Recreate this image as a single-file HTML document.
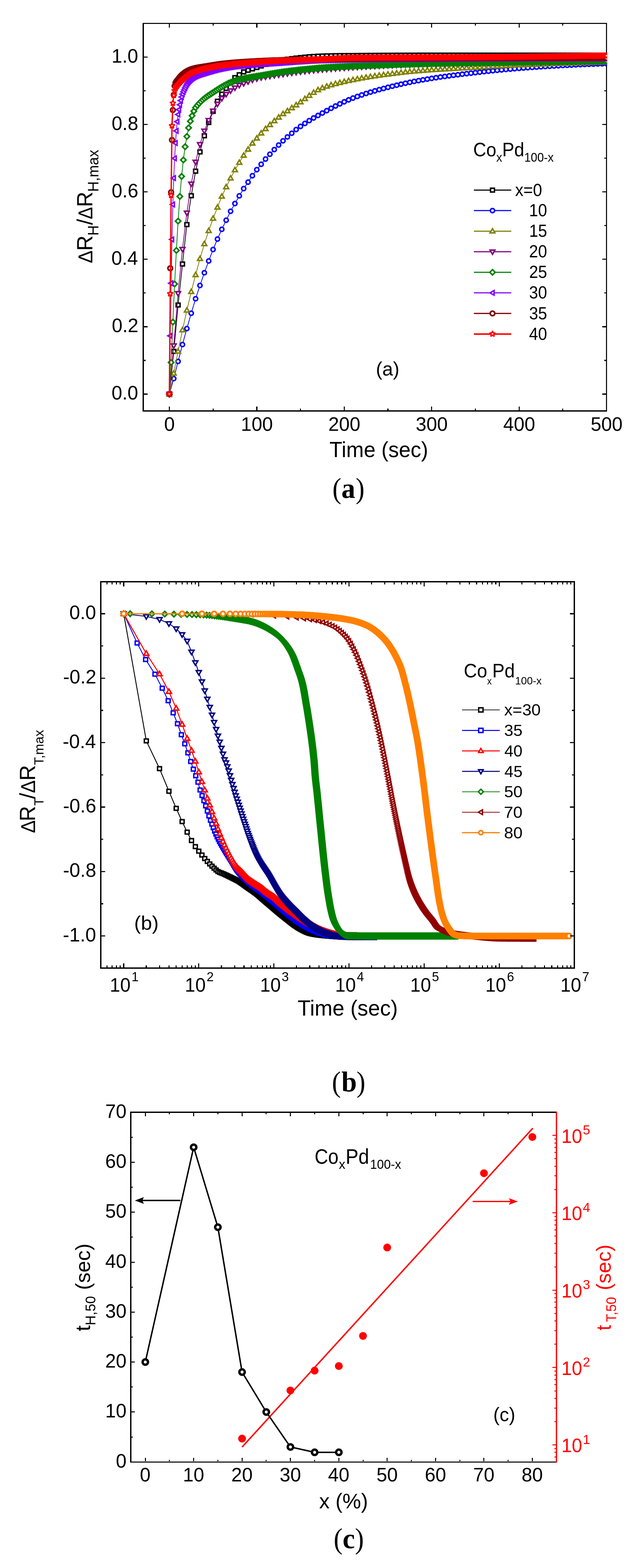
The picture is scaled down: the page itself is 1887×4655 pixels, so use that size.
<!DOCTYPE html>
<html lang="en"><head><meta charset="utf-8"><title>CoxPd100-x hydrogenation response</title>
<style>
html,body{margin:0;padding:0;background:#fff}
body{width:1887px;height:4655px;overflow:hidden}
svg{display:block}
text{white-space:pre}
</style></head><body>
<svg role="img" aria-label="CoxPd100-x hydrogen response figure" width="1887" height="4655" viewBox="0 0 1887 4655">
<rect width="1887" height="4655" fill="#fff"/>
<defs>
<g id="a0" fill="#fff" stroke="#000" stroke-width="4.3" stroke-linejoin="miter"><rect x="-5.85" y="-5.65" width="11.7" height="11.3"/></g>
<marker id="ma0" markerUnits="userSpaceOnUse" markerWidth="40" markerHeight="40" refX="0" refY="0" viewBox="-20 -20 40 40" orient="0" overflow="visible"><use href="#a0"/></marker>
<g id="a1" fill="#fff" stroke="#0000ff" stroke-width="4.6" stroke-linejoin="miter"><circle r="6.15"/></g>
<marker id="ma1" markerUnits="userSpaceOnUse" markerWidth="40" markerHeight="40" refX="0" refY="0" viewBox="-20 -20 40 40" orient="0" overflow="visible"><use href="#a1"/></marker>
<g id="a2" fill="#fff" stroke="#808000" stroke-width="4.3" stroke-linejoin="miter"><path d="M0 -7.67L7.25 4.88L-7.25 4.88Z"/></g>
<marker id="ma2" markerUnits="userSpaceOnUse" markerWidth="40" markerHeight="40" refX="0" refY="0" viewBox="-20 -20 40 40" orient="0" overflow="visible"><use href="#a2"/></marker>
<g id="a3" fill="#fff" stroke="#800080" stroke-width="4.3" stroke-linejoin="miter"><path d="M0 7.67L7.25 -4.88L-7.25 -4.88Z"/></g>
<marker id="ma3" markerUnits="userSpaceOnUse" markerWidth="40" markerHeight="40" refX="0" refY="0" viewBox="-20 -20 40 40" orient="0" overflow="visible"><use href="#a3"/></marker>
<g id="a4" fill="#fff" stroke="#008000" stroke-width="4.6" stroke-linejoin="miter"><path d="M0 -7.95L7.95 0L0 7.95L-7.95 0Z"/></g>
<marker id="ma4" markerUnits="userSpaceOnUse" markerWidth="40" markerHeight="40" refX="0" refY="0" viewBox="-20 -20 40 40" orient="0" overflow="visible"><use href="#a4"/></marker>
<g id="a5" fill="#fff" stroke="#8000ff" stroke-width="4.3" stroke-linejoin="miter"><path d="M-7.27 0L4.68 6.9L4.68 -6.9Z"/></g>
<marker id="ma5" markerUnits="userSpaceOnUse" markerWidth="40" markerHeight="40" refX="0" refY="0" viewBox="-20 -20 40 40" orient="0" overflow="visible"><use href="#a5"/></marker>
<g id="a6" fill="#fff" stroke="#800000" stroke-width="4.9" stroke-linejoin="miter"><circle r="6.85"/></g>
<marker id="ma6" markerUnits="userSpaceOnUse" markerWidth="40" markerHeight="40" refX="0" refY="0" viewBox="-20 -20 40 40" orient="0" overflow="visible"><use href="#a6"/></marker>
<g id="a7" fill="#fff" stroke="#ff0000" stroke-width="3.8" stroke-linejoin="miter" stroke-miterlimit="2"><polygon points="0,-9.5 2.23,-3.57 8.56,-3.28 3.61,0.67 5.29,6.78 0,3.3 -5.29,6.78 -3.61,0.67 -8.56,-3.28 -2.23,-3.57"/></g>
<marker id="ma7" markerUnits="userSpaceOnUse" markerWidth="40" markerHeight="40" refX="0" refY="0" viewBox="-20 -20 40 40" orient="0" overflow="visible"><use href="#a7"/></marker>
<g id="b0" fill="#fff" stroke="#000" stroke-width="4.2" stroke-linejoin="miter"><rect x="-5.85" y="-5.65" width="11.7" height="11.3"/></g>
<marker id="mb0" markerUnits="userSpaceOnUse" markerWidth="40" markerHeight="40" refX="0" refY="0" viewBox="-20 -20 40 40" orient="0" overflow="visible"><use href="#b0"/></marker>
<g id="b1" fill="#fff" stroke="#0000ff" stroke-width="4.2" stroke-linejoin="miter"><rect x="-5.85" y="-5.65" width="11.7" height="11.3"/></g>
<marker id="mb1" markerUnits="userSpaceOnUse" markerWidth="40" markerHeight="40" refX="0" refY="0" viewBox="-20 -20 40 40" orient="0" overflow="visible"><use href="#b1"/></marker>
<g id="b2" fill="#fff" stroke="#ff0000" stroke-width="4.2" stroke-linejoin="miter"><path d="M0 -8.06L7.59 5.08L-7.59 5.08Z"/></g>
<marker id="mb2" markerUnits="userSpaceOnUse" markerWidth="40" markerHeight="40" refX="0" refY="0" viewBox="-20 -20 40 40" orient="0" overflow="visible"><use href="#b2"/></marker>
<g id="b3" fill="#fff" stroke="#000080" stroke-width="4.2" stroke-linejoin="miter"><path d="M0 8.06L7.59 -5.08L-7.59 -5.08Z"/></g>
<marker id="mb3" markerUnits="userSpaceOnUse" markerWidth="40" markerHeight="40" refX="0" refY="0" viewBox="-20 -20 40 40" orient="0" overflow="visible"><use href="#b3"/></marker>
<g id="b4" fill="#fff" stroke="#008000" stroke-width="4.6" stroke-linejoin="miter"><path d="M0 -7.95L7.95 0L0 7.95L-7.95 0Z"/></g>
<marker id="mb4" markerUnits="userSpaceOnUse" markerWidth="40" markerHeight="40" refX="0" refY="0" viewBox="-20 -20 40 40" orient="0" overflow="visible"><use href="#b4"/></marker>
<g id="b5" fill="#fff" stroke="#900000" stroke-width="4.2" stroke-linejoin="miter"><path d="M-7.27 0L4.68 6.9L4.68 -6.9Z"/></g>
<marker id="mb5" markerUnits="userSpaceOnUse" markerWidth="40" markerHeight="40" refX="0" refY="0" viewBox="-20 -20 40 40" orient="0" overflow="visible"><use href="#b5"/></marker>
<g id="b6" fill="#fff" stroke="#ff8000" stroke-width="5.3" stroke-linejoin="miter"><circle r="7.2"/></g>
<marker id="mb6" markerUnits="userSpaceOnUse" markerWidth="40" markerHeight="40" refX="0" refY="0" viewBox="-20 -20 40 40" orient="0" overflow="visible"><use href="#b6"/></marker>
<g id="b0L" fill="#fff" stroke="#000" stroke-width="4.2" stroke-linejoin="miter"><rect x="-6.45" y="-6.25" width="12.9" height="12.5"/></g>
<marker id="mb0L" markerUnits="userSpaceOnUse" markerWidth="40" markerHeight="40" refX="0" refY="0" viewBox="-20 -20 40 40" orient="0" overflow="visible"><use href="#b0L"/></marker>
<g id="b1L" fill="#fff" stroke="#0000ff" stroke-width="4.2" stroke-linejoin="miter"><rect x="-6.45" y="-6.25" width="12.9" height="12.5"/></g>
<marker id="mb1L" markerUnits="userSpaceOnUse" markerWidth="40" markerHeight="40" refX="0" refY="0" viewBox="-20 -20 40 40" orient="0" overflow="visible"><use href="#b1L"/></marker>
<g id="b2L" fill="#fff" stroke="#ff0000" stroke-width="4.2" stroke-linejoin="miter"><path d="M0 -7.27L6.9 4.68L-6.9 4.68Z"/></g>
<marker id="mb2L" markerUnits="userSpaceOnUse" markerWidth="40" markerHeight="40" refX="0" refY="0" viewBox="-20 -20 40 40" orient="0" overflow="visible"><use href="#b2L"/></marker>
<g id="b3L" fill="#fff" stroke="#000080" stroke-width="4.2" stroke-linejoin="miter"><path d="M0 7.27L6.9 -4.68L-6.9 -4.68Z"/></g>
<marker id="mb3L" markerUnits="userSpaceOnUse" markerWidth="40" markerHeight="40" refX="0" refY="0" viewBox="-20 -20 40 40" orient="0" overflow="visible"><use href="#b3L"/></marker>
<g id="b4L" fill="#fff" stroke="#008000" stroke-width="4.2" stroke-linejoin="miter"><path d="M0 -7.5L7.5 0L0 7.5L-7.5 0Z"/></g>
<marker id="mb4L" markerUnits="userSpaceOnUse" markerWidth="40" markerHeight="40" refX="0" refY="0" viewBox="-20 -20 40 40" orient="0" overflow="visible"><use href="#b4L"/></marker>
<g id="b5L" fill="#fff" stroke="#900000" stroke-width="4.2" stroke-linejoin="miter"><path d="M-7.27 0L4.68 6.9L4.68 -6.9Z"/></g>
<marker id="mb5L" markerUnits="userSpaceOnUse" markerWidth="40" markerHeight="40" refX="0" refY="0" viewBox="-20 -20 40 40" orient="0" overflow="visible"><use href="#b5L"/></marker>
<g id="b6L" fill="#fff" stroke="#ff8000" stroke-width="4.6" stroke-linejoin="miter"><circle r="6.15"/></g>
<marker id="mb6L" markerUnits="userSpaceOnUse" markerWidth="40" markerHeight="40" refX="0" refY="0" viewBox="-20 -20 40 40" orient="0" overflow="visible"><use href="#b6L"/></marker>
<g id="c0" fill="#fff" stroke="#000" stroke-width="7" stroke-linejoin="miter"><circle r="8"/></g>
<marker id="mc0" markerUnits="userSpaceOnUse" markerWidth="40" markerHeight="40" refX="0" refY="0" viewBox="-20 -20 40 40" orient="0" overflow="visible"><use href="#c0"/></marker>
<g id="c1" fill="#ff0000" stroke="#ff0000" stroke-width="0" stroke-linejoin="miter"><circle r="11.5"/></g>
<marker id="mc1" markerUnits="userSpaceOnUse" markerWidth="40" markerHeight="40" refX="0" refY="0" viewBox="-20 -20 40 40" orient="0" overflow="visible"><use href="#c1"/></marker>
</defs>
<g id="chart-a">
<g shape-rendering="crispEdges">
<rect x="425.2" y="69.4" width="1374.3" height="1150.6" fill="none" stroke="#000" stroke-width="3.6"/>
<line x1="502.5" y1="1218.2" x2="502.5" y2="1207.2" stroke="#000" stroke-width="3.2"/>
<line x1="502.5" y1="71.2" x2="502.5" y2="82.2" stroke="#000" stroke-width="3.2"/>
<line x1="632.2" y1="1218.2" x2="632.2" y2="1213.2" stroke="#000" stroke-width="3.2"/>
<line x1="632.2" y1="71.2" x2="632.2" y2="76.2" stroke="#000" stroke-width="3.2"/>
<line x1="761.9" y1="1218.2" x2="761.9" y2="1207.2" stroke="#000" stroke-width="3.2"/>
<line x1="761.9" y1="71.2" x2="761.9" y2="82.2" stroke="#000" stroke-width="3.2"/>
<line x1="891.6" y1="1218.2" x2="891.6" y2="1213.2" stroke="#000" stroke-width="3.2"/>
<line x1="891.6" y1="71.2" x2="891.6" y2="76.2" stroke="#000" stroke-width="3.2"/>
<line x1="1021.3" y1="1218.2" x2="1021.3" y2="1207.2" stroke="#000" stroke-width="3.2"/>
<line x1="1021.3" y1="71.2" x2="1021.3" y2="82.2" stroke="#000" stroke-width="3.2"/>
<line x1="1151" y1="1218.2" x2="1151" y2="1213.2" stroke="#000" stroke-width="3.2"/>
<line x1="1151" y1="71.2" x2="1151" y2="76.2" stroke="#000" stroke-width="3.2"/>
<line x1="1280.7" y1="1218.2" x2="1280.7" y2="1207.2" stroke="#000" stroke-width="3.2"/>
<line x1="1280.7" y1="71.2" x2="1280.7" y2="82.2" stroke="#000" stroke-width="3.2"/>
<line x1="1410.4" y1="1218.2" x2="1410.4" y2="1213.2" stroke="#000" stroke-width="3.2"/>
<line x1="1410.4" y1="71.2" x2="1410.4" y2="76.2" stroke="#000" stroke-width="3.2"/>
<line x1="1540.1" y1="1218.2" x2="1540.1" y2="1207.2" stroke="#000" stroke-width="3.2"/>
<line x1="1540.1" y1="71.2" x2="1540.1" y2="82.2" stroke="#000" stroke-width="3.2"/>
<line x1="1669.8" y1="1218.2" x2="1669.8" y2="1213.2" stroke="#000" stroke-width="3.2"/>
<line x1="1669.8" y1="71.2" x2="1669.8" y2="76.2" stroke="#000" stroke-width="3.2"/>
<line x1="1799.5" y1="1218.2" x2="1799.5" y2="1207.2" stroke="#000" stroke-width="3.2"/>
<line x1="1799.5" y1="71.2" x2="1799.5" y2="82.2" stroke="#000" stroke-width="3.2"/>
<line x1="427" y1="1170" x2="438" y2="1170" stroke="#000" stroke-width="3.2"/>
<line x1="1797.7" y1="1170" x2="1786.7" y2="1170" stroke="#000" stroke-width="3.2"/>
<line x1="427" y1="1069.95" x2="432" y2="1069.95" stroke="#000" stroke-width="3.2"/>
<line x1="1797.7" y1="1069.95" x2="1792.7" y2="1069.95" stroke="#000" stroke-width="3.2"/>
<line x1="427" y1="969.9" x2="438" y2="969.9" stroke="#000" stroke-width="3.2"/>
<line x1="1797.7" y1="969.9" x2="1786.7" y2="969.9" stroke="#000" stroke-width="3.2"/>
<line x1="427" y1="869.85" x2="432" y2="869.85" stroke="#000" stroke-width="3.2"/>
<line x1="1797.7" y1="869.85" x2="1792.7" y2="869.85" stroke="#000" stroke-width="3.2"/>
<line x1="427" y1="769.8" x2="438" y2="769.8" stroke="#000" stroke-width="3.2"/>
<line x1="1797.7" y1="769.8" x2="1786.7" y2="769.8" stroke="#000" stroke-width="3.2"/>
<line x1="427" y1="669.75" x2="432" y2="669.75" stroke="#000" stroke-width="3.2"/>
<line x1="1797.7" y1="669.75" x2="1792.7" y2="669.75" stroke="#000" stroke-width="3.2"/>
<line x1="427" y1="569.7" x2="438" y2="569.7" stroke="#000" stroke-width="3.2"/>
<line x1="1797.7" y1="569.7" x2="1786.7" y2="569.7" stroke="#000" stroke-width="3.2"/>
<line x1="427" y1="469.65" x2="432" y2="469.65" stroke="#000" stroke-width="3.2"/>
<line x1="1797.7" y1="469.65" x2="1792.7" y2="469.65" stroke="#000" stroke-width="3.2"/>
<line x1="427" y1="369.6" x2="438" y2="369.6" stroke="#000" stroke-width="3.2"/>
<line x1="1797.7" y1="369.6" x2="1786.7" y2="369.6" stroke="#000" stroke-width="3.2"/>
<line x1="427" y1="269.55" x2="432" y2="269.55" stroke="#000" stroke-width="3.2"/>
<line x1="1797.7" y1="269.55" x2="1792.7" y2="269.55" stroke="#000" stroke-width="3.2"/>
<line x1="427" y1="169.5" x2="438" y2="169.5" stroke="#000" stroke-width="3.2"/>
<line x1="1797.7" y1="169.5" x2="1786.7" y2="169.5" stroke="#000" stroke-width="3.2"/>
</g>
<clipPath id="clipa"><rect x="425.2" y="69.4" width="1376.2" height="1150.6"/></clipPath>
<g clip-path="url(#clipa)">
<polyline points="502.5,1170 515.5,1043.3 528.4,905.5 541.4,783.8 554.4,666.7 567.4,581 580.3,508.2 593.3,451 606.3,403.1 619.2,363.6 632.2,330.6 645.2,300.6 658.1,279.6 671.1,262.5 684.1,245 697,230.5 710,222 723,213.5 736,208.5 748.9,204.5 761.9,200.3 774.9,195.8 787.8,191.2 800.8,186.9 813.8,183 826.8,179.9 839.7,177.7 852.7,175.8 865.7,174.1 878.6,172.4 891.6,171 904.6,169.7 917.5,168.5 930.5,167.6 943.5,166.8 956.5,166.3 969.4,165.9 982.4,165.6 995.4,165.3 1008.3,165.1 1021.3,165 1034.3,164.9 1047.2,164.8 1060.2,164.7 1073.2,164.6 1086.2,164.5 1099.1,164.4 1112.1,164.3 1125.1,164.2 1138,164.1 1151,164.1 1164,164 1176.9,163.9 1189.9,163.9 1202.9,163.8 1215.8,163.8 1228.8,163.8 1241.8,163.7 1254.8,163.7 1267.7,163.7 1280.7,163.7 1293.7,163.7 1306.6,163.7 1319.6,163.7 1332.6,163.7 1345.5,163.7 1358.5,163.7 1371.5,163.7 1384.5,163.7 1397.4,163.7 1410.4,163.7 1423.4,163.7 1436.3,163.7 1449.3,163.7 1462.3,163.7 1475.2,163.7 1488.2,163.7 1501.2,163.7 1514.2,163.7 1527.1,163.7 1540.1,163.7 1553.1,163.7 1566,163.7 1579,163.7 1592,163.7 1605,163.7 1617.9,163.7 1630.9,163.7 1643.9,163.7 1656.8,163.7 1669.8,163.7 1682.8,163.7 1695.7,163.7 1708.7,163.7 1721.7,163.7 1734.6,163.7 1747.6,163.7 1760.6,163.7 1773.6,163.7 1786.5,163.7 1799.5,163.7" fill="none" stroke="#000" stroke-width="2.2" stroke-linejoin="round" marker-start="url(#ma0)" marker-mid="url(#ma0)" marker-end="url(#ma0)"/>
<polyline points="502.5,1170 515.5,1124 528.4,1073 541.4,1022.9 554.4,975.4 567.4,929.9 580.3,886.9 593.3,847.4 606.3,809.8 619.2,774.8 632.2,740.8 645.2,709.8 658.1,680.8 671.1,653.7 684.1,627.2 697,604.3 710,581.4 723,559.9 736,540.7 748.9,521.7 761.9,503.7 774.9,487.7 787.8,472.2 800.8,457.9 813.8,444.1 826.8,430.6 839.7,418.1 852.7,406.6 865.7,395.6 878.6,384.6 891.6,375.2 904.6,366.4 917.5,358.1 930.5,350.3 943.5,342.8 956.5,335.6 969.4,328.5 982.4,321.5 995.4,314.8 1008.3,308.4 1021.3,302.3 1034.3,296.5 1047.2,291.2 1060.2,286.4 1073.2,281.9 1086.2,277.6 1099.1,273.6 1112.1,269.8 1125.1,266.1 1138,262.7 1151,259.3 1164,256.1 1176.9,253 1189.9,250 1202.9,247.1 1215.8,244.4 1228.8,241.8 1241.8,239.4 1254.8,237.1 1267.7,234.9 1280.7,232.8 1293.7,230.8 1306.6,228.8 1319.6,227 1332.6,225.2 1345.5,223.5 1358.5,221.9 1371.5,220.3 1384.5,218.7 1397.4,217.2 1410.4,215.7 1423.4,214.2 1436.3,212.8 1449.3,211.4 1462.3,210.1 1475.2,208.8 1488.2,207.5 1501.2,206.3 1514.2,205.2 1527.1,204.1 1540.1,203 1553.1,202 1566,201 1579,200.1 1592,199.2 1605,198.3 1617.9,197.5 1630.9,196.7 1643.9,195.9 1656.8,195.2 1669.8,194.5 1682.8,193.9 1695.7,193.2 1708.7,192.6 1721.7,192 1734.6,191.4 1747.6,190.9 1760.6,190.4 1773.6,189.9 1786.5,189.4 1799.5,189" fill="none" stroke="#0000ff" stroke-width="2.2" stroke-linejoin="round" marker-start="url(#ma1)" marker-mid="url(#ma1)" marker-end="url(#ma1)"/>
<polyline points="502.5,1170 515.5,1108.5 528.4,1043.3 541.4,979.9 554.4,921.5 567.4,866.3 580.3,816.1 593.3,768.3 606.3,724.2 619.2,685.2 632.2,648.7 645.2,615.7 658.1,583.2 671.1,555.3 684.1,529.2 697,504.7 710,482.7 723,461.6 736,443.6 748.9,425.6 761.9,410.6 774.9,395.6 787.8,382.6 800.8,370.6 813.8,359.1 826.8,348.6 839.7,338.1 852.7,329.6 865.7,320.6 878.6,312.1 891.6,303.1 904.6,293.5 917.5,283.9 930.5,274.9 943.5,267.2 956.5,261.3 969.4,256.6 982.4,252.5 995.4,248.9 1008.3,245.6 1021.3,242.6 1034.3,239.8 1047.2,237.2 1060.2,234.7 1073.2,232.3 1086.2,230 1099.1,227.9 1112.1,225.9 1125.1,224 1138,222.3 1151,220.6 1164,218.9 1176.9,217.3 1189.9,215.8 1202.9,214.3 1215.8,213 1228.8,211.8 1241.8,210.6 1254.8,209.6 1267.7,208.7 1280.7,207.8 1293.7,207 1306.6,206.2 1319.6,205.4 1332.6,204.7 1345.5,203.9 1358.5,203.2 1371.5,202.4 1384.5,201.7 1397.4,200.9 1410.4,200.2 1423.4,199.4 1436.3,198.7 1449.3,198 1462.3,197.3 1475.2,196.6 1488.2,195.9 1501.2,195.3 1514.2,194.6 1527.1,194.1 1540.1,193.5 1553.1,193 1566,192.5 1579,191.9 1592,191.4 1605,190.9 1617.9,190.4 1630.9,190 1643.9,189.5 1656.8,189 1669.8,188.6 1682.8,188.2 1695.7,187.8 1708.7,187.3 1721.7,187 1734.6,186.6 1747.6,186.2 1760.6,185.9 1773.6,185.6 1786.5,185.3 1799.5,185" fill="none" stroke="#808000" stroke-width="2.2" stroke-linejoin="round" marker-start="url(#ma2)" marker-mid="url(#ma2)" marker-end="url(#ma2)"/>
<polyline points="502.5,1170 515.5,1026.1 528.4,870.9 541.4,739.8 554.4,631.7 567.4,545.7 580.3,480.7 593.3,428.6 606.3,388.6 619.2,357.1 632.2,329.1 645.2,308.6 658.1,292 671.1,279.6 684.1,269 697,260.5 710,252.7 723,247.5 736,242 748.9,237 761.9,233.3 774.9,230 787.8,228 800.8,225.8 813.8,223.8 826.8,222.1 839.7,220.1 852.7,218.3 865.7,216.3 878.6,214.5 891.6,213.1 904.6,211.6 917.5,210.1 930.5,208.8 943.5,207.6 956.5,206.4 969.4,205.3 982.4,204.3 995.4,203.3 1008.3,202.3 1021.3,201.4 1034.3,200.6 1047.2,199.8 1060.2,199 1073.2,198.3 1086.2,197.6 1099.1,196.9 1112.1,196.2 1125.1,195.5 1138,194.9 1151,194.3 1164,193.7 1176.9,193.1 1189.9,192.5 1202.9,192 1215.8,191.5 1228.8,191 1241.8,190.6 1254.8,190.2 1267.7,189.8 1280.7,189.5 1293.7,189.2 1306.6,188.9 1319.6,188.7 1332.6,188.4 1345.5,188.2 1358.5,188 1371.5,187.7 1384.5,187.5 1397.4,187.3 1410.4,187.1 1423.4,187 1436.3,186.8 1449.3,186.6 1462.3,186.4 1475.2,186.3 1488.2,186.1 1501.2,186 1514.2,185.8 1527.1,185.7 1540.1,185.5 1553.1,185.4 1566,185.2 1579,185.1 1592,184.9 1605,184.8 1617.9,184.6 1630.9,184.5 1643.9,184.4 1656.8,184.2 1669.8,184.1 1682.8,184 1695.7,183.8 1708.7,183.7 1721.7,183.6 1734.6,183.5 1747.6,183.4 1760.6,183.3 1773.6,183.2 1786.5,183.1 1799.5,183" fill="none" stroke="#800080" stroke-width="2.2" stroke-linejoin="round" marker-start="url(#ma3)" marker-mid="url(#ma3)" marker-end="url(#ma3)"/>
<polyline points="502.5,1170 507.7,1076 512.9,956 518.1,843 523.3,743.4 528.4,656.4 533.6,583.2 538.8,523.7 544,474.9 549.2,435.6 554.4,405.1 559.6,379.6 564.8,359.9 569.9,343.6 575.1,330 580.3,319.6 585.5,312.9 590.7,306.9 595.9,301.6 601.1,296.8 606.3,292.4 611.4,288.4 616.6,284.7 621.8,281.2 627,277.8 632.2,274.4 637.4,271 642.6,267.7 647.8,264.4 653,261.2 658.1,258.1 663.3,255.1 668.5,252.3 673.7,249.6 678.9,247.1 684.1,244.7 689.3,242.6 694.5,240.7 699.6,239.1 704.8,237.7 710,236.3 715.2,235.1 720.4,233.9 725.6,232.8 730.8,231.7 736,230.8 741.1,229.8 746.3,228.9 751.5,228 756.7,227.2 761.9,226.3 767.1,225.5 772.3,224.7 777.5,223.8 782.7,222.9 787.8,222 793,221 798.2,220.1 803.4,219.2 808.6,218.3 813.8,217.4 819,216.6 824.2,215.8 829.3,215 834.5,214.2 839.7,213.5 844.9,212.8 850.1,212.1 855.3,211.5 860.5,210.8 865.7,210.2 870.8,209.6 876,209 881.2,208.4 886.4,207.8 891.6,207.3 896.8,206.7 902,206.2 907.2,205.6 912.4,205.1 917.5,204.6 922.7,204.1 927.9,203.6 933.1,203.1 938.3,202.6 943.5,202.2 948.7,201.8 953.9,201.4 959,201 964.2,200.7 969.4,200.3 974.6,200 979.8,199.7 985,199.3 990.2,199 995.4,198.7 1000.5,198.4 1005.7,198.2 1010.9,197.9 1016.1,197.6 1021.3,197.4 1026.5,197.1 1031.7,196.9 1036.9,196.7 1042.1,196.4 1047.2,196.2 1052.4,196 1057.6,195.8 1062.8,195.6 1068,195.3 1073.2,195.1 1078.4,194.9 1083.6,194.7 1088.7,194.5 1093.9,194.3 1099.1,194.2 1104.3,194 1109.5,193.8 1114.7,193.6 1119.9,193.4 1125.1,193.2 1130.2,193.1 1135.4,192.9 1140.6,192.7 1145.8,192.5 1151,192.4 1156.2,192.2 1161.4,192.1 1166.6,191.9 1171.8,191.7 1176.9,191.6 1182.1,191.4 1187.3,191.3 1192.5,191.1 1197.7,191 1202.9,190.8 1208.1,190.7 1213.3,190.6 1218.4,190.4 1223.6,190.3 1228.8,190.2 1234,190 1239.2,189.9 1244.4,189.8 1249.6,189.7 1254.8,189.5 1259.9,189.4 1265.1,189.3 1270.3,189.2 1275.5,189.1 1280.7,189 1285.9,188.9 1291.1,188.8 1296.3,188.6 1301.5,188.5 1306.6,188.4 1311.8,188.3 1317,188.2 1322.2,188.2 1327.4,188.1 1332.6,188 1337.8,187.9 1343,187.8 1348.1,187.7 1353.3,187.6 1358.5,187.5 1363.7,187.4 1368.9,187.3 1374.1,187.2 1379.3,187.1 1384.5,187 1389.6,187 1394.8,186.9 1400,186.8 1405.2,186.7 1410.4,186.6 1415.6,186.5 1420.8,186.4 1426,186.3 1431.2,186.2 1436.3,186.2 1441.5,186.1 1446.7,186 1451.9,185.9 1457.1,185.8 1462.3,185.7 1467.5,185.6 1472.7,185.6 1477.8,185.5 1483,185.4 1488.2,185.3 1493.4,185.2 1498.6,185.1 1503.8,185 1509,185 1514.2,184.9 1519.3,184.8 1524.5,184.7 1529.7,184.6 1534.9,184.5 1540.1,184.5 1545.3,184.4 1550.5,184.3 1555.7,184.2 1560.9,184.1 1566,184.1 1571.2,184 1576.4,183.9 1581.6,183.8 1586.8,183.8 1592,183.7 1597.2,183.6 1602.4,183.5 1607.5,183.4 1612.7,183.4 1617.9,183.3 1623.1,183.2 1628.3,183.1 1633.5,183.1 1638.7,183 1643.9,182.9 1649,182.9 1654.2,182.8 1659.4,182.7 1664.6,182.6 1669.8,182.6 1675,182.5 1680.2,182.4 1685.4,182.4 1690.6,182.3 1695.7,182.2 1700.9,182.2 1706.1,182.1 1711.3,182 1716.5,182 1721.7,181.9 1726.9,181.8 1732.1,181.8 1737.2,181.7 1742.4,181.6 1747.6,181.6 1752.8,181.5 1758,181.5 1763.2,181.4 1768.4,181.3 1773.6,181.3 1778.7,181.2 1783.9,181.2 1789.1,181.1 1794.3,181.1 1799.5,181" fill="none" stroke="#008000" stroke-width="2.2" stroke-linejoin="round" marker-start="url(#ma4)" marker-mid="url(#ma4)" marker-end="url(#ma4)"/>
<polyline points="502.5,1170 505.1,996.9 507.7,840.8 510.3,710.8 512.9,607.1 515.5,528.7 518.1,470 520.7,424.6 523.3,388.6 525.8,361.1 528.4,340 531,325.3 533.6,310.9 536.2,298.6 538.8,288 541.4,279.6 544,272.6 546.6,266.4 549.2,260.8 551.8,255.4 554.4,250.4 557,246.2 559.6,243 562.2,240 564.8,237.3 567.4,234.9 569.9,232.7 572.5,230.8 575.1,229.1 577.7,227.7 580.3,226.4 582.9,225.2 585.5,224 588.1,223 590.7,222 593.3,221.1 595.9,220.2 598.5,219.4 601.1,218.6 603.7,217.8 606.3,217.1 608.9,216.3 611.4,215.5 614,214.8 616.6,214 619.2,213.2 621.8,212.4 624.4,211.6 627,210.9 629.6,210.1 632.2,209.4 634.8,208.7 637.4,208 640,207.3 642.6,206.7 645.2,206 647.8,205.4 650.4,204.8 653,204.3 655.5,203.7 658.1,203.2 660.7,202.7 663.3,202.2 665.9,201.7 668.5,201.2 671.1,200.7 673.7,200.2 676.3,199.8 678.9,199.3 681.5,198.9 684.1,198.5 686.7,198.1 689.3,197.7 691.9,197.3 694.5,197 697,196.7 699.6,196.3 702.2,196 704.8,195.8 707.4,195.5 710,195.2 712.6,194.9 715.2,194.7 717.8,194.4 720.4,194.2 723,193.9 725.6,193.7 728.2,193.4 730.8,193.2 733.4,193 736,192.7 738.6,192.5 741.1,192.3 743.7,192.1 746.3,191.9 748.9,191.7 751.5,191.5 754.1,191.3 756.7,191.1 759.3,190.9 761.9,190.7 764.5,190.5 767.1,190.3 769.7,190.1 772.3,189.9 774.9,189.7 777.5,189.6 780.1,189.4 782.7,189.2 785.2,189 787.8,188.9 790.4,188.7 793,188.5 795.6,188.3 798.2,188.2 800.8,188 803.4,187.8 806,187.7 808.6,187.5 811.2,187.3 813.8,187.1 816.4,187 819,186.8 821.6,186.6 824.2,186.4 826.8,186.2 829.3,186.1 831.9,185.9 834.5,185.7 837.1,185.5 839.7,185.3 842.3,185.1 844.9,184.9 847.5,184.8 850.1,184.6 852.7,184.4 855.3,184.2 857.9,184 860.5,183.8 863.1,183.6 865.7,183.4 868.3,183.2 870.8,183.1 873.4,182.9 876,182.7 878.6,182.5 881.2,182.3 883.8,182.1 886.4,182 889,181.8 891.6,181.6 894.2,181.4 896.8,181.3 899.4,181.1 902,180.9 904.6,180.8 907.2,180.6 909.8,180.4 912.4,180.3 914.9,180.1 917.5,180 920.1,179.8 922.7,179.7 925.3,179.6 927.9,179.4 930.5,179.3 933.1,179.2 935.7,179.1 938.3,178.9 940.9,178.8 943.5,178.7 946.1,178.6 948.7,178.5 951.3,178.4 953.9,178.4 956.5,178.3 959,178.2 961.6,178.1 964.2,178.1 966.8,178 969.4,177.9 972,177.9 974.6,177.8 977.2,177.7 979.8,177.7 982.4,177.6 985,177.5 987.6,177.5 990.2,177.4 992.8,177.4 995.4,177.3 998,177.2 1000.5,177.2 1003.1,177.1 1005.7,177.1 1008.3,177 1010.9,176.9 1013.5,176.9 1016.1,176.8 1018.7,176.8 1021.3,176.7 1023.9,176.7 1026.5,176.6 1029.1,176.6 1031.7,176.5 1034.3,176.5 1036.9,176.4 1039.5,176.4 1042.1,176.3 1044.6,176.3 1047.2,176.2 1049.8,176.2 1052.4,176.1 1055,176.1 1057.6,176.1 1060.2,176 1062.8,176 1065.4,175.9 1068,175.9 1070.6,175.8 1073.2,175.8 1075.8,175.8 1078.4,175.7 1081,175.7 1083.6,175.7 1086.2,175.6 1088.7,175.6 1091.3,175.6 1093.9,175.5 1096.5,175.5 1099.1,175.5 1101.7,175.4 1104.3,175.4 1106.9,175.4 1109.5,175.3 1112.1,175.3 1114.7,175.3 1117.3,175.3 1119.9,175.2 1122.5,175.2 1125.1,175.2 1127.7,175.2 1130.2,175.2 1132.8,175.1 1135.4,175.1 1138,175.1 1140.6,175.1 1143.2,175.1 1145.8,175 1148.4,175 1151,175 1153.6,175 1156.2,175 1158.8,175 1161.4,174.9 1164,174.9 1166.6,174.9 1169.2,174.9 1171.8,174.9 1174.3,174.9 1176.9,174.9 1179.5,174.8 1182.1,174.8 1184.7,174.8 1187.3,174.8 1189.9,174.8 1192.5,174.8 1195.1,174.7 1197.7,174.7 1200.3,174.7 1202.9,174.7 1205.5,174.7 1208.1,174.7 1210.7,174.7 1213.3,174.6 1215.8,174.6 1218.4,174.6 1221,174.6 1223.6,174.6 1226.2,174.6 1228.8,174.6 1231.4,174.6 1234,174.5 1236.6,174.5 1239.2,174.5 1241.8,174.5 1244.4,174.5 1247,174.5 1249.6,174.5 1252.2,174.4 1254.8,174.4 1257.4,174.4 1259.9,174.4 1262.5,174.4 1265.1,174.4 1267.7,174.4 1270.3,174.4 1272.9,174.3 1275.5,174.3 1278.1,174.3 1280.7,174.3 1283.3,174.3 1285.9,174.3 1288.5,174.3 1291.1,174.3 1293.7,174.2 1296.3,174.2 1298.9,174.2 1301.5,174.2 1304,174.2 1306.6,174.2 1309.2,174.2 1311.8,174.2 1314.4,174.1 1317,174.1 1319.6,174.1 1322.2,174.1 1324.8,174.1 1327.4,174.1 1330,174.1 1332.6,174.1 1335.2,174 1337.8,174 1340.4,174 1343,174 1345.5,174 1348.1,174 1350.7,174 1353.3,174 1355.9,174 1358.5,173.9 1361.1,173.9 1363.7,173.9 1366.3,173.9 1368.9,173.9 1371.5,173.9 1374.1,173.9 1376.7,173.9 1379.3,173.9 1381.9,173.9 1384.5,173.8 1387.1,173.8 1389.6,173.8 1392.2,173.8 1394.8,173.8 1397.4,173.8 1400,173.8 1402.6,173.8 1405.2,173.8 1407.8,173.8 1410.4,173.7 1413,173.7 1415.6,173.7 1418.2,173.7 1420.8,173.7 1423.4,173.7 1426,173.7 1428.6,173.7 1431.2,173.7 1433.7,173.7 1436.3,173.6 1438.9,173.6 1441.5,173.6 1444.1,173.6 1446.7,173.6 1449.3,173.6 1451.9,173.6 1454.5,173.6 1457.1,173.6 1459.7,173.6 1462.3,173.6 1464.9,173.6 1467.5,173.5 1470.1,173.5 1472.7,173.5 1475.2,173.5 1477.8,173.5 1480.4,173.5 1483,173.5 1485.6,173.5 1488.2,173.5 1490.8,173.5 1493.4,173.5 1496,173.5 1498.6,173.4 1501.2,173.4 1503.8,173.4 1506.4,173.4 1509,173.4 1511.6,173.4 1514.2,173.4 1516.8,173.4 1519.3,173.4 1521.9,173.4 1524.5,173.4 1527.1,173.4 1529.7,173.4 1532.3,173.4 1534.9,173.3 1537.5,173.3 1540.1,173.3 1542.7,173.3 1545.3,173.3 1547.9,173.3 1550.5,173.3 1553.1,173.3 1555.7,173.3 1558.3,173.3 1560.9,173.3 1563.4,173.3 1566,173.3 1568.6,173.3 1571.2,173.3 1573.8,173.3 1576.4,173.2 1579,173.2 1581.6,173.2 1584.2,173.2 1586.8,173.2 1589.4,173.2 1592,173.2 1594.6,173.2 1597.2,173.2 1599.8,173.2 1602.4,173.2 1605,173.2 1607.5,173.2 1610.1,173.2 1612.7,173.2 1615.3,173.2 1617.9,173.2 1620.5,173.2 1623.1,173.2 1625.7,173.2 1628.3,173.1 1630.9,173.1 1633.5,173.1 1636.1,173.1 1638.7,173.1 1641.3,173.1 1643.9,173.1 1646.5,173.1 1649,173.1 1651.6,173.1 1654.2,173.1 1656.8,173.1 1659.4,173.1 1662,173.1 1664.6,173.1 1667.2,173.1 1669.8,173.1 1672.4,173.1 1675,173.1 1677.6,173.1 1680.2,173.1 1682.8,173.1 1685.4,173.1 1688,173.1 1690.6,173.1 1693.1,173.1 1695.7,173.1 1698.3,173.1 1700.9,173.1 1703.5,173 1706.1,173 1708.7,173 1711.3,173 1713.9,173 1716.5,173 1719.1,173 1721.7,173 1724.3,173 1726.9,173 1729.5,173 1732.1,173 1734.6,173 1737.2,173 1739.8,173 1742.4,173 1745,173 1747.6,173 1750.2,173 1752.8,173 1755.4,173 1758,173 1760.6,173 1763.2,173 1765.8,173 1768.4,173 1771,173 1773.6,173 1776.2,173 1778.7,173 1781.3,173 1783.9,173 1786.5,173 1789.1,173 1791.7,173 1794.3,173 1796.9,173 1799.5,173" fill="none" stroke="#8000ff" stroke-width="2.2" stroke-linejoin="round" marker-start="url(#ma5)" marker-mid="url(#ma5)" marker-end="url(#ma5)"/>
<polyline points="502.5,1170 505.1,796.4 507.7,570.7 510.3,415.6 512.9,326.6 515.5,281.6 518.1,255.4 520.7,246 523.3,241.4 525.8,238.2 528.4,235.2 531,231.7 533.6,228.4 536.2,225.4 538.8,222.8 541.4,220.5 544,218.4 546.6,216.3 549.2,214.4 551.8,212.7 554.4,211.1 557,209.8 559.6,208.6 562.2,207.4 564.8,206.4 567.4,205.4 569.9,204.5 572.5,203.7 575.1,203 577.7,202.4 580.3,201.8 582.9,201.2 585.5,200.7 588.1,200.3 590.7,199.8 593.3,199.4 595.9,199 598.5,198.6 601.1,198.2 603.7,197.8 606.3,197.4 608.9,197.1 611.4,196.7 614,196.2 616.6,195.8 619.2,195.4 621.8,194.9 624.4,194.5 627,194 629.6,193.6 632.2,193.2 634.8,192.7 637.4,192.3 640,191.9 642.6,191.5 645.2,191.1 647.8,190.7 650.4,190.4 653,190 655.5,189.7 658.1,189.4 660.7,189.1 663.3,188.8 665.9,188.5 668.5,188.3 671.1,188 673.7,187.7 676.3,187.5 678.9,187.2 681.5,187 684.1,186.7 686.7,186.5 689.3,186.3 691.9,186.1 694.5,185.9 697,185.7 699.6,185.5 702.2,185.3 704.8,185.1 707.4,184.9 710,184.7 712.6,184.6 715.2,184.4 717.8,184.2 720.4,184.1 723,183.9 725.6,183.7 728.2,183.6 730.8,183.4 733.4,183.2 736,183.1 738.6,182.9 741.1,182.8 743.7,182.6 746.3,182.5 748.9,182.3 751.5,182.2 754.1,182 756.7,181.9 759.3,181.8 761.9,181.6 764.5,181.5 767.1,181.4 769.7,181.2 772.3,181.1 774.9,181 777.5,180.9 780.1,180.7 782.7,180.6 785.2,180.5 787.8,180.4 790.4,180.3 793,180.2 795.6,180 798.2,179.9 800.8,179.8 803.4,179.7 806,179.6 808.6,179.5 811.2,179.4 813.8,179.4 816.4,179.3 819,179.2 821.6,179.1 824.2,179 826.8,178.9 829.3,178.9 831.9,178.8 834.5,178.7 837.1,178.6 839.7,178.5 842.3,178.5 844.9,178.4 847.5,178.3 850.1,178.3 852.7,178.2 855.3,178.1 857.9,178.1 860.5,178 863.1,177.9 865.7,177.9 868.3,177.8 870.8,177.7 873.4,177.7 876,177.6 878.6,177.5 881.2,177.5 883.8,177.4 886.4,177.4 889,177.3 891.6,177.3 894.2,177.2 896.8,177.2 899.4,177.1 902,177 904.6,177 907.2,176.9 909.8,176.9 912.4,176.8 914.9,176.8 917.5,176.7 920.1,176.7 922.7,176.6 925.3,176.6 927.9,176.5 930.5,176.5 933.1,176.5 935.7,176.4 938.3,176.4 940.9,176.3 943.5,176.3 946.1,176.2 948.7,176.2 951.3,176.1 953.9,176.1 956.5,176 959,176 961.6,176 964.2,175.9 966.8,175.9 969.4,175.8 972,175.8 974.6,175.7 977.2,175.7 979.8,175.7 982.4,175.6 985,175.6 987.6,175.5 990.2,175.5 992.8,175.4 995.4,175.4 998,175.4 1000.5,175.3 1003.1,175.3 1005.7,175.2 1008.3,175.2 1010.9,175.1 1013.5,175.1 1016.1,175.1 1018.7,175 1021.3,175 1023.9,174.9 1026.5,174.9 1029.1,174.8 1031.7,174.8 1034.3,174.8 1036.9,174.7 1039.5,174.7 1042.1,174.6 1044.6,174.6 1047.2,174.6 1049.8,174.5 1052.4,174.5 1055,174.5 1057.6,174.4 1060.2,174.4 1062.8,174.4 1065.4,174.3 1068,174.3 1070.6,174.2 1073.2,174.2 1075.8,174.2 1078.4,174.1 1081,174.1 1083.6,174.1 1086.2,174.1 1088.7,174 1091.3,174 1093.9,174 1096.5,173.9 1099.1,173.9 1101.7,173.9 1104.3,173.9 1106.9,173.8 1109.5,173.8 1112.1,173.8 1114.7,173.8 1117.3,173.7 1119.9,173.7 1122.5,173.7 1125.1,173.7 1127.7,173.6 1130.2,173.6 1132.8,173.6 1135.4,173.6 1138,173.6 1140.6,173.6 1143.2,173.5 1145.8,173.5 1148.4,173.5 1151,173.5 1153.6,173.5 1156.2,173.5 1158.8,173.5 1161.4,173.5 1164,173.4 1166.6,173.4 1169.2,173.4 1171.8,173.4 1174.3,173.4 1176.9,173.4 1179.5,173.4 1182.1,173.4 1184.7,173.4 1187.3,173.3 1189.9,173.3 1192.5,173.3 1195.1,173.3 1197.7,173.3 1200.3,173.3 1202.9,173.3 1205.5,173.3 1208.1,173.3 1210.7,173.2 1213.3,173.2 1215.8,173.2 1218.4,173.2 1221,173.2 1223.6,173.2 1226.2,173.2 1228.8,173.2 1231.4,173.2 1234,173.2 1236.6,173.1 1239.2,173.1 1241.8,173.1 1244.4,173.1 1247,173.1 1249.6,173.1 1252.2,173.1 1254.8,173.1 1257.4,173.1 1259.9,173 1262.5,173 1265.1,173 1267.7,173 1270.3,173 1272.9,173 1275.5,173 1278.1,173 1280.7,173 1283.3,173 1285.9,173 1288.5,172.9 1291.1,172.9 1293.7,172.9 1296.3,172.9 1298.9,172.9 1301.5,172.9 1304,172.9 1306.6,172.9 1309.2,172.9 1311.8,172.9 1314.4,172.9 1317,172.8 1319.6,172.8 1322.2,172.8 1324.8,172.8 1327.4,172.8 1330,172.8 1332.6,172.8 1335.2,172.8 1337.8,172.8 1340.4,172.8 1343,172.8 1345.5,172.7 1348.1,172.7 1350.7,172.7 1353.3,172.7 1355.9,172.7 1358.5,172.7 1361.1,172.7 1363.7,172.7 1366.3,172.7 1368.9,172.7 1371.5,172.7 1374.1,172.7 1376.7,172.7 1379.3,172.6 1381.9,172.6 1384.5,172.6 1387.1,172.6 1389.6,172.6 1392.2,172.6 1394.8,172.6 1397.4,172.6 1400,172.6 1402.6,172.6 1405.2,172.6 1407.8,172.6 1410.4,172.6 1413,172.5 1415.6,172.5 1418.2,172.5 1420.8,172.5 1423.4,172.5 1426,172.5 1428.6,172.5 1431.2,172.5 1433.7,172.5 1436.3,172.5 1438.9,172.5 1441.5,172.5 1444.1,172.5 1446.7,172.5 1449.3,172.5 1451.9,172.4 1454.5,172.4 1457.1,172.4 1459.7,172.4 1462.3,172.4 1464.9,172.4 1467.5,172.4 1470.1,172.4 1472.7,172.4 1475.2,172.4 1477.8,172.4 1480.4,172.4 1483,172.4 1485.6,172.4 1488.2,172.4 1490.8,172.4 1493.4,172.3 1496,172.3 1498.6,172.3 1501.2,172.3 1503.8,172.3 1506.4,172.3 1509,172.3 1511.6,172.3 1514.2,172.3 1516.8,172.3 1519.3,172.3 1521.9,172.3 1524.5,172.3 1527.1,172.3 1529.7,172.3 1532.3,172.3 1534.9,172.3 1537.5,172.3 1540.1,172.2 1542.7,172.2 1545.3,172.2 1547.9,172.2 1550.5,172.2 1553.1,172.2 1555.7,172.2 1558.3,172.2 1560.9,172.2 1563.4,172.2 1566,172.2 1568.6,172.2 1571.2,172.2 1573.8,172.2 1576.4,172.2 1579,172.2 1581.6,172.2 1584.2,172.2 1586.8,172.2 1589.4,172.2 1592,172.2 1594.6,172.2 1597.2,172.2 1599.8,172.1 1602.4,172.1 1605,172.1 1607.5,172.1 1610.1,172.1 1612.7,172.1 1615.3,172.1 1617.9,172.1 1620.5,172.1 1623.1,172.1 1625.7,172.1 1628.3,172.1 1630.9,172.1 1633.5,172.1 1636.1,172.1 1638.7,172.1 1641.3,172.1 1643.9,172.1 1646.5,172.1 1649,172.1 1651.6,172.1 1654.2,172.1 1656.8,172.1 1659.4,172.1 1662,172.1 1664.6,172.1 1667.2,172.1 1669.8,172.1 1672.4,172.1 1675,172.1 1677.6,172.1 1680.2,172.1 1682.8,172.1 1685.4,172 1688,172 1690.6,172 1693.1,172 1695.7,172 1698.3,172 1700.9,172 1703.5,172 1706.1,172 1708.7,172 1711.3,172 1713.9,172 1716.5,172 1719.1,172 1721.7,172 1724.3,172 1726.9,172 1729.5,172 1732.1,172 1734.6,172 1737.2,172 1739.8,172 1742.4,172 1745,172 1747.6,172 1750.2,172 1752.8,172 1755.4,172 1758,172 1760.6,172 1763.2,172 1765.8,172 1768.4,172 1771,172 1773.6,172 1776.2,172 1778.7,172 1781.3,172 1783.9,172 1786.5,172 1789.1,172 1791.7,172 1794.3,172 1796.9,172 1799.5,172" fill="none" stroke="#800000" stroke-width="2.2" stroke-linejoin="round" marker-start="url(#ma6)" marker-mid="url(#ma6)" marker-end="url(#ma6)"/>
<polyline points="502.5,1170 505.1,872.3 507.7,580.3 510.3,373.6 512.9,306.6 515.5,283.6 518.1,269.5 520.7,263.1 523.3,258.5 525.8,254.9 528.4,251.5 531,248.2 533.6,245.1 536.2,242.2 538.8,239.5 541.4,236.9 544,234.4 546.6,232 549.2,229.6 551.8,227.3 554.4,225.1 557,223.2 559.6,221.6 562.2,220.1 564.8,218.7 567.4,217.4 569.9,216.2 572.5,215.1 575.1,214.1 577.7,213.1 580.3,212.2 582.9,211.3 585.5,210.5 588.1,209.7 590.7,208.9 593.3,208.1 595.9,207.4 598.5,206.6 601.1,206 603.7,205.3 606.3,204.7 608.9,204.1 611.4,203.5 614,202.9 616.6,202.3 619.2,201.8 621.8,201.3 624.4,200.8 627,200.3 629.6,199.8 632.2,199.3 634.8,198.9 637.4,198.5 640,198 642.6,197.6 645.2,197.2 647.8,196.8 650.4,196.4 653,196.1 655.5,195.7 658.1,195.3 660.7,194.9 663.3,194.6 665.9,194.2 668.5,193.9 671.1,193.6 673.7,193.2 676.3,192.9 678.9,192.6 681.5,192.3 684.1,192 686.7,191.7 689.3,191.4 691.9,191.1 694.5,190.8 697,190.6 699.6,190.3 702.2,190.1 704.8,189.9 707.4,189.6 710,189.4 712.6,189.2 715.2,188.9 717.8,188.7 720.4,188.5 723,188.3 725.6,188.1 728.2,187.8 730.8,187.6 733.4,187.4 736,187.2 738.6,187 741.1,186.8 743.7,186.6 746.3,186.4 748.9,186.2 751.5,186 754.1,185.8 756.7,185.6 759.3,185.5 761.9,185.3 764.5,185.1 767.1,184.9 769.7,184.7 772.3,184.6 774.9,184.4 777.5,184.2 780.1,184.1 782.7,183.9 785.2,183.7 787.8,183.6 790.4,183.4 793,183.3 795.6,183.1 798.2,183 800.8,182.8 803.4,182.7 806,182.5 808.6,182.4 811.2,182.3 813.8,182.1 816.4,182 819,181.9 821.6,181.7 824.2,181.6 826.8,181.5 829.3,181.4 831.9,181.3 834.5,181.1 837.1,181 839.7,180.9 842.3,180.8 844.9,180.7 847.5,180.6 850.1,180.5 852.7,180.4 855.3,180.3 857.9,180.2 860.5,180.1 863.1,180 865.7,179.9 868.3,179.8 870.8,179.7 873.4,179.6 876,179.5 878.6,179.5 881.2,179.4 883.8,179.3 886.4,179.2 889,179.1 891.6,179 894.2,178.9 896.8,178.9 899.4,178.8 902,178.7 904.6,178.6 907.2,178.5 909.8,178.4 912.4,178.4 914.9,178.3 917.5,178.2 920.1,178.1 922.7,178 925.3,177.9 927.9,177.8 930.5,177.8 933.1,177.7 935.7,177.6 938.3,177.5 940.9,177.4 943.5,177.3 946.1,177.2 948.7,177.1 951.3,177 953.9,176.9 956.5,176.8 959,176.7 961.6,176.6 964.2,176.5 966.8,176.4 969.4,176.2 972,176.1 974.6,176 977.2,175.9 979.8,175.7 982.4,175.6 985,175.4 987.6,175.3 990.2,175.1 992.8,175 995.4,174.9 998,174.7 1000.5,174.6 1003.1,174.4 1005.7,174.3 1008.3,174.2 1010.9,174 1013.5,173.9 1016.1,173.8 1018.7,173.6 1021.3,173.5 1023.9,173.4 1026.5,173.3 1029.1,173.2 1031.7,173.1 1034.3,173 1036.9,172.9 1039.5,172.8 1042.1,172.8 1044.6,172.7 1047.2,172.7 1049.8,172.6 1052.4,172.6 1055,172.6 1057.6,172.5 1060.2,172.5 1062.8,172.5 1065.4,172.5 1068,172.4 1070.6,172.4 1073.2,172.4 1075.8,172.4 1078.4,172.3 1081,172.3 1083.6,172.3 1086.2,172.3 1088.7,172.3 1091.3,172.2 1093.9,172.2 1096.5,172.2 1099.1,172.2 1101.7,172.2 1104.3,172.1 1106.9,172.1 1109.5,172.1 1112.1,172.1 1114.7,172.1 1117.3,172 1119.9,172 1122.5,172 1125.1,172 1127.7,172 1130.2,172 1132.8,172 1135.4,171.9 1138,171.9 1140.6,171.9 1143.2,171.9 1145.8,171.9 1148.4,171.9 1151,171.9 1153.6,171.8 1156.2,171.8 1158.8,171.8 1161.4,171.8 1164,171.8 1166.6,171.8 1169.2,171.8 1171.8,171.8 1174.3,171.8 1176.9,171.7 1179.5,171.7 1182.1,171.7 1184.7,171.7 1187.3,171.7 1189.9,171.7 1192.5,171.7 1195.1,171.7 1197.7,171.7 1200.3,171.7 1202.9,171.7 1205.5,171.6 1208.1,171.6 1210.7,171.6 1213.3,171.6 1215.8,171.6 1218.4,171.6 1221,171.6 1223.6,171.6 1226.2,171.6 1228.8,171.6 1231.4,171.6 1234,171.6 1236.6,171.5 1239.2,171.5 1241.8,171.5 1244.4,171.5 1247,171.5 1249.6,171.5 1252.2,171.5 1254.8,171.5 1257.4,171.5 1259.9,171.5 1262.5,171.5 1265.1,171.4 1267.7,171.4 1270.3,171.4 1272.9,171.4 1275.5,171.4 1278.1,171.4 1280.7,171.4 1283.3,171.4 1285.9,171.4 1288.5,171.4 1291.1,171.4 1293.7,171.3 1296.3,171.3 1298.9,171.3 1301.5,171.3 1304,171.3 1306.6,171.3 1309.2,171.3 1311.8,171.3 1314.4,171.2 1317,171.2 1319.6,171.2 1322.2,171.2 1324.8,171.2 1327.4,171.2 1330,171.2 1332.6,171.2 1335.2,171.1 1337.8,171.1 1340.4,171.1 1343,171.1 1345.5,171.1 1348.1,171.1 1350.7,171 1353.3,171 1355.9,171 1358.5,171 1361.1,171 1363.7,171 1366.3,170.9 1368.9,170.9 1371.5,170.9 1374.1,170.9 1376.7,170.9 1379.3,170.8 1381.9,170.8 1384.5,170.8 1387.1,170.8 1389.6,170.8 1392.2,170.8 1394.8,170.7 1397.4,170.7 1400,170.7 1402.6,170.7 1405.2,170.6 1407.8,170.6 1410.4,170.6 1413,170.6 1415.6,170.6 1418.2,170.5 1420.8,170.5 1423.4,170.5 1426,170.5 1428.6,170.5 1431.2,170.4 1433.7,170.4 1436.3,170.4 1438.9,170.4 1441.5,170.3 1444.1,170.3 1446.7,170.3 1449.3,170.3 1451.9,170.2 1454.5,170.2 1457.1,170.2 1459.7,170.2 1462.3,170.1 1464.9,170.1 1467.5,170.1 1470.1,170.1 1472.7,170 1475.2,170 1477.8,170 1480.4,170 1483,169.9 1485.6,169.9 1488.2,169.9 1490.8,169.9 1493.4,169.8 1496,169.8 1498.6,169.8 1501.2,169.8 1503.8,169.7 1506.4,169.7 1509,169.7 1511.6,169.7 1514.2,169.6 1516.8,169.6 1519.3,169.6 1521.9,169.6 1524.5,169.5 1527.1,169.5 1529.7,169.5 1532.3,169.4 1534.9,169.4 1537.5,169.4 1540.1,169.4 1542.7,169.3 1545.3,169.3 1547.9,169.3 1550.5,169.3 1553.1,169.2 1555.7,169.2 1558.3,169.2 1560.9,169.1 1563.4,169.1 1566,169.1 1568.6,169.1 1571.2,169 1573.8,169 1576.4,169 1579,168.9 1581.6,168.9 1584.2,168.9 1586.8,168.9 1589.4,168.8 1592,168.8 1594.6,168.8 1597.2,168.7 1599.8,168.7 1602.4,168.7 1605,168.6 1607.5,168.6 1610.1,168.6 1612.7,168.6 1615.3,168.5 1617.9,168.5 1620.5,168.5 1623.1,168.4 1625.7,168.4 1628.3,168.4 1630.9,168.3 1633.5,168.3 1636.1,168.3 1638.7,168.3 1641.3,168.2 1643.9,168.2 1646.5,168.2 1649,168.1 1651.6,168.1 1654.2,168.1 1656.8,168 1659.4,168 1662,168 1664.6,167.9 1667.2,167.9 1669.8,167.9 1672.4,167.8 1675,167.8 1677.6,167.8 1680.2,167.7 1682.8,167.7 1685.4,167.7 1688,167.6 1690.6,167.6 1693.1,167.6 1695.7,167.5 1698.3,167.5 1700.9,167.4 1703.5,167.4 1706.1,167.4 1708.7,167.3 1711.3,167.3 1713.9,167.3 1716.5,167.2 1719.1,167.2 1721.7,167.2 1724.3,167.1 1726.9,167.1 1729.5,167 1732.1,167 1734.6,167 1737.2,166.9 1739.8,166.9 1742.4,166.9 1745,166.8 1747.6,166.8 1750.2,166.7 1752.8,166.7 1755.4,166.7 1758,166.6 1760.6,166.6 1763.2,166.6 1765.8,166.5 1768.4,166.5 1771,166.4 1773.6,166.4 1776.2,166.4 1778.7,166.3 1781.3,166.3 1783.9,166.2 1786.5,166.2 1789.1,166.2 1791.7,166.1 1794.3,166.1 1796.9,166 1799.5,166" fill="none" stroke="#ff0000" stroke-width="4" stroke-linejoin="round" marker-start="url(#ma7)" marker-mid="url(#ma7)" marker-end="url(#ma7)"/>
</g>
<text transform="matrix(1.0000 0 0 1 330.98 1186.10)" font-family="Liberation Sans, Arial, sans-serif" font-size="56.8" fill="#000">0.0</text>
<text transform="matrix(1.0000 0 0 1 331.69 986.00)" font-family="Liberation Sans, Arial, sans-serif" font-size="56.8" fill="#000">0.2</text>
<text transform="matrix(1.0000 0 0 1 330.41 785.90)" font-family="Liberation Sans, Arial, sans-serif" font-size="56.8" fill="#000">0.4</text>
<text transform="matrix(1.0000 0 0 1 331.26 585.80)" font-family="Liberation Sans, Arial, sans-serif" font-size="56.8" fill="#000">0.6</text>
<text transform="matrix(1.0000 0 0 1 331.26 385.70)" font-family="Liberation Sans, Arial, sans-serif" font-size="56.8" fill="#000">0.8</text>
<text transform="matrix(1.0000 0 0 1 330.98 185.60)" font-family="Liberation Sans, Arial, sans-serif" font-size="56.8" fill="#000">1.0</text>
<text transform="matrix(1.0000 0 0 1 487.00 1279.30)" font-family="Liberation Sans, Arial, sans-serif" font-size="56.8" fill="#000">0</text>
<text transform="matrix(1.0000 0 0 1 714.81 1279.30)" font-family="Liberation Sans, Arial, sans-serif" font-size="56.8" fill="#000">100</text>
<text transform="matrix(1.0000 0 0 1 974.21 1279.30)" font-family="Liberation Sans, Arial, sans-serif" font-size="56.8" fill="#000">200</text>
<text transform="matrix(1.0000 0 0 1 1233.61 1279.30)" font-family="Liberation Sans, Arial, sans-serif" font-size="56.8" fill="#000">300</text>
<text transform="matrix(1.0000 0 0 1 1493.01 1279.30)" font-family="Liberation Sans, Arial, sans-serif" font-size="56.8" fill="#000">400</text>
<text transform="matrix(1.0000 0 0 1 1752.41 1279.30)" font-family="Liberation Sans, Arial, sans-serif" font-size="56.8" fill="#000">500</text>
<text transform="matrix(0.9766 0 0 1 977.59 1357.40)" font-family="Liberation Sans, Arial, sans-serif" font-size="64" fill="#000">Time (sec)</text>
<text transform="matrix(0 -0.9736 1 0 274.00 781.61)" font-family="Liberation Sans, Arial, sans-serif" font-size="58.5" fill="#000">Δ</text>
<text transform="matrix(0 -0.9763 1 0 274.00 744.64)" font-family="Liberation Sans, Arial, sans-serif" font-size="65" fill="#000">R</text>
<text transform="matrix(0 -0.9447 1 0 292.20 699.41)" font-family="Liberation Sans, Arial, sans-serif" font-size="45" fill="#000">H</text>
<text transform="matrix(0 -0.9813 1 0 274.00 667.80)" font-family="Liberation Sans, Arial, sans-serif" font-size="65" fill="#000">/</text>
<text transform="matrix(0 -0.9342 1 0 274.00 651.04)" font-family="Liberation Sans, Arial, sans-serif" font-size="58.5" fill="#000">Δ</text>
<text transform="matrix(0 -0.9789 1 0 274.00 614.85)" font-family="Liberation Sans, Arial, sans-serif" font-size="65" fill="#000">R</text>
<text transform="matrix(0 -0.9612 1 0 292.20 569.57)" font-family="Liberation Sans, Arial, sans-serif" font-size="45" fill="#000">H,max</text>
<text transform="matrix(0.9350 0 0 1 1404.00 464.30)" font-family="Liberation Sans, Arial, sans-serif" fill="#000"><tspan font-size="57.3" dy="0">Co</tspan><tspan font-size="37.3" dy="15.3">x</tspan><tspan font-size="57.3" dy="-15.3">Pd</tspan><tspan font-size="37.3" dy="15.3">100-x</tspan></text>
<line x1="1406" y1="564.4" x2="1517" y2="564.4" stroke="#000" stroke-width="3.3"/>
<use href="#a0" x="1461.2" y="564.4"/>
<text transform="matrix(0.9582 0 0 1 1528.39 581.80)" font-family="Liberation Sans, Arial, sans-serif" font-size="51" fill="#000">x=0</text>
<line x1="1406" y1="625.2" x2="1517" y2="625.2" stroke="#0000ff" stroke-width="3.3"/>
<use href="#a1" x="1461.2" y="625.2"/>
<text transform="matrix(0.9400 0 0 1 1569.78 642.20)" font-family="Liberation Sans, Arial, sans-serif" font-size="51" fill="#000">10</text>
<line x1="1406" y1="686.4" x2="1517" y2="686.4" stroke="#808000" stroke-width="3.3"/>
<use href="#a2" x="1461.2" y="686.4"/>
<text transform="matrix(0.9400 0 0 1 1569.90 703.40)" font-family="Liberation Sans, Arial, sans-serif" font-size="51" fill="#000">15</text>
<line x1="1406" y1="747.4" x2="1517" y2="747.4" stroke="#800080" stroke-width="3.3"/>
<use href="#a3" x="1461.2" y="747.4"/>
<text transform="matrix(0.9400 0 0 1 1569.78 764.40)" font-family="Liberation Sans, Arial, sans-serif" font-size="51" fill="#000">20</text>
<line x1="1406" y1="808.4" x2="1517" y2="808.4" stroke="#008000" stroke-width="3.3"/>
<use href="#a4" x="1461.2" y="808.4"/>
<text transform="matrix(0.9400 0 0 1 1569.90 825.40)" font-family="Liberation Sans, Arial, sans-serif" font-size="51" fill="#000">25</text>
<line x1="1406" y1="869.4" x2="1517" y2="869.4" stroke="#8000ff" stroke-width="3.3"/>
<use href="#a5" x="1461.2" y="869.4"/>
<text transform="matrix(0.9400 0 0 1 1569.78 886.40)" font-family="Liberation Sans, Arial, sans-serif" font-size="51" fill="#000">30</text>
<line x1="1406" y1="930.5" x2="1517" y2="930.5" stroke="#800000" stroke-width="3.3"/>
<use href="#a6" x="1461.2" y="930.5"/>
<text transform="matrix(0.9400 0 0 1 1569.90 947.50)" font-family="Liberation Sans, Arial, sans-serif" font-size="51" fill="#000">35</text>
<line x1="1406" y1="991.8" x2="1517" y2="991.8" stroke="#ff0000" stroke-width="4.5"/>
<use href="#a7" x="1461.2" y="991.8"/>
<text transform="matrix(0.9400 0 0 1 1569.78 1008.80)" font-family="Liberation Sans, Arial, sans-serif" font-size="51" fill="#000">40</text>
<text transform="matrix(0.9901 0 0 1 1115.13 1115.20)" font-family="Liberation Sans, Arial, sans-serif" font-size="57.7" fill="#000">(a)</text>
<text transform="matrix(0.9600 0 0 1 1013.06 1478.00)" font-family="Liberation Serif, Times New Roman, serif" font-size="85.5" font-weight="bold" fill="#000">a</text>
<text transform="matrix(0.9225 0 0 1 986.35 1478.60)" font-family="Liberation Serif, Times New Roman, serif" font-size="86.3" fill="#000">(</text>
<text transform="matrix(0.9135 0 0 1 1055.31 1478.60)" font-family="Liberation Serif, Times New Roman, serif" font-size="86.3" fill="#000">)</text>
</g>
<g id="chart-b">
<clipPath id="clipb"><rect x="299.0" y="1727.0" width="1405.0" height="1146.6999999999998"/></clipPath>
<g clip-path="url(#clipb)">
<polyline points="367,1822 434.1,2199.5 473.3,2281.9 501.2,2349 522.8,2399.8 540.4,2439.1 555.3,2470.4 568.2,2495.4 579.6,2513.4 589.8,2526.9 599.1,2538.4 607.5,2548.8 615.2,2557.4 622.4,2564.9 629.1,2571.5 635.3,2577.4 641.2,2582.7 646.7,2587.3 651.9,2589.9 656.9,2591.8 661.6,2593.6 666.1,2595.6 670.4,2597.6 674.6,2599.5 678.5,2601.5 682.3,2603.3 686,2605.1 689.5,2606.9 692.9,2608.5 696.1,2610.1 699.3,2611.7 702.4,2613.3 705.4,2614.9 708.3,2616.5 711.1,2618.2 713.8,2620 716.4,2621.8 719,2623.6 721.5,2625.5 724,2627.3 726.4,2629 728.7,2630.7 731,2632.4 733.2,2633.9 735.4,2635.4 737.5,2636.9 739.6,2638.3 741.6,2639.7 743.6,2641 745.6,2642.3 747.5,2643.6 749.4,2644.9 751.2,2646.2 753,2647.5 754.8,2648.7 756.5,2650 758.3,2651.3 759.9,2652.6 761.6,2653.9 763.2,2655.2 764.8,2656.5 766.4,2657.8 767.9,2659.1 769.5,2660.4 771,2661.7 772.4,2663 773.9,2664.3 775.3,2665.5 776.8,2666.8 778.1,2668 779.5,2669.2 780.9,2670.4 782.2,2671.5 783.5,2672.7 784.8,2673.8 786.1,2674.9 787.4,2675.9 788.6,2677 789.8,2678 791.1,2679.1 792.3,2680.1 793.5,2681.1 794.6,2682.1 795.8,2683.1 796.9,2684 798.1,2685 799.2,2686 800.4,2687 801.5,2687.9 802.7,2688.9 803.8,2689.9 804.9,2690.8 806.1,2691.8 807.2,2692.8 808.4,2693.8 809.5,2694.7 810.6,2695.7 811.8,2696.7 812.9,2697.7 814,2698.6 815.2,2699.6 816.3,2700.6 817.5,2701.6 818.6,2702.6 819.7,2703.5 820.9,2704.5 822,2705.5 823.2,2706.5 824.3,2707.4 825.4,2708.4 826.6,2709.4 827.7,2710.3 828.9,2711.3 830.1,2712.2 831.2,2713.2 832.4,2714.1 833.5,2715.1 834.7,2716 835.9,2717 837.1,2717.9 838.2,2718.8 839.4,2719.8 840.6,2720.7 841.7,2721.6 842.9,2722.6 844.1,2723.5 845.3,2724.4 846.4,2725.4 847.6,2726.3 848.8,2727.2 850,2728.1 851.2,2729.1 852.3,2730 853.5,2730.9 854.7,2731.9 855.9,2732.8 857,2733.7 858.2,2734.7 859.4,2735.6 860.5,2736.5 861.7,2737.5 862.9,2738.4 864.1,2739.3 865.3,2740.3 866.4,2741.2 867.6,2742.1 868.8,2743 870,2743.9 871.2,2744.8 872.4,2745.7 873.7,2746.6 874.9,2747.4 876.1,2748.3 877.4,2749.1 878.6,2749.9 879.9,2750.8 881.1,2751.6 882.4,2752.4 883.6,2753.3 884.9,2754.1 886.1,2754.9 887.4,2755.7 888.7,2756.4 890,2757.2 891.3,2758 892.6,2758.7 893.9,2759.5 895.2,2760.2 896.5,2760.9 897.9,2761.6 899.2,2762.2 900.5,2762.9 901.9,2763.6 903.2,2764.2 904.6,2764.9 905.9,2765.6 907.3,2766.2 908.7,2766.8 910,2767.4 911.4,2768 912.8,2768.6 914.2,2769.1 915.6,2769.7 917,2770.2 918.4,2770.6 919.9,2771.1 921.3,2771.4 922.8,2771.8 924.2,2772.2 925.7,2772.5 927.2,2772.8 928.6,2773.1 930.1,2773.4 931.6,2773.7 933.1,2773.9 934.5,2774.2 936,2774.4 937.5,2774.7 939,2774.9 940.5,2775.1 941.9,2775.4 943.4,2775.6 944.9,2775.8 946.4,2776 947.9,2776.2 949.4,2776.4 950.9,2776.5 952.3,2776.7 953.8,2776.9 955.3,2777.1 956.8,2777.2 958.3,2777.4 959.8,2777.5 961.3,2777.7 962.8,2777.8 964.3,2778 965.8,2778.1 967.3,2778.3 968.8,2778.4 970.3,2778.5 971.8,2778.7 973.2,2778.8 974.7,2778.9 976.2,2779.1 977.7,2779.2 979.2,2779.3 980.7,2779.4 982.2,2779.6 983.7,2779.7 985.2,2779.8 986.7,2779.9 988.2,2780 989.7,2780.1 991.2,2780.3 992.7,2780.4 994.2,2780.5 995.7,2780.6 997.2,2780.7 998.7,2780.8 1000.2,2780.8 1001.7,2780.9 1003.2,2781 1004.7,2781.1 1006.2,2781.2 1007.7,2781.2 1009.2,2781.3 1010.7,2781.4 1012.2,2781.5 1013.7,2781.5 1015.1,2781.6 1016.6,2781.7 1018.1,2781.7 1019.6,2781.8 1021.1,2781.8 1022.6,2781.9 1024.1,2782 1025.6,2782 1027.1,2782.1 1028.6,2782.1 1030.1,2782.2 1031.6,2782.2 1033.1,2782.3 1034.6,2782.3 1036.1,2782.3 1037.6,2782.4 1039.1,2782.4 1040.6,2782.5 1042.1,2782.5 1043.6,2782.5 1044.4,2782.5" fill="none" stroke="#000" stroke-width="2.6" stroke-linejoin="round" marker-start="url(#mb0)" marker-mid="url(#mb0)" marker-end="url(#mb0)"/>
<polyline points="367,1822 406.9,1909 432.1,1958 459.8,2001.5 481.4,2043.1 499,2080.2 513.8,2116.3 526.7,2148.5 538.1,2181.2 548.3,2208.2 557.5,2235 565.9,2260.7 573.6,2283.4 580.8,2303 587.5,2322.1 593.7,2345.3 599.6,2361.7 605.1,2377.1 610.3,2392.2 615.3,2407.7 620,2422.4 624.5,2435.1 628.8,2446.7 632.9,2457.4 636.9,2467.2 640.7,2476.1 644.3,2484.2 647.8,2491.5 651.2,2498 654.5,2503.9 657.7,2509.4 660.8,2514.6 663.7,2519.5 666.6,2524.3 669.4,2529 672.1,2533.4 674.8,2537.6 677.4,2541.7 679.9,2545.7 682.3,2549.5 684.7,2553.3 687.1,2557.1 689.3,2560.9 691.6,2564.7 693.7,2568.4 695.9,2571.9 697.9,2575.3 700,2578.5 702,2581.5 703.9,2584.1 705.8,2586.6 707.7,2588.9 709.6,2591.1 711.4,2593.1 713.1,2595.1 714.9,2597 716.6,2598.8 718.3,2600.5 719.9,2602.2 721.6,2603.8 723.2,2605.4 724.7,2606.9 726.3,2608.5 727.8,2609.9 729.3,2611.4 730.8,2612.8 732.2,2614.2 733.7,2615.6 735.1,2617 736.5,2618.3 737.8,2619.6 739.2,2620.7 740.5,2621.8 741.9,2622.9 743.2,2623.9 744.4,2625 745.7,2625.9 746.9,2626.9 748.2,2627.8 749.4,2628.7 750.6,2629.6 751.8,2630.5 753,2631.4 754.2,2632.3 755.5,2633.1 756.7,2634 757.9,2634.9 759.1,2635.7 760.4,2636.6 761.6,2637.5 762.8,2638.3 764,2639.2 765.3,2640 766.5,2640.9 767.7,2641.8 768.9,2642.7 770.1,2643.6 771.4,2644.4 772.6,2645.3 773.8,2646.2 774.9,2647.1 776.1,2648.1 777.3,2649 778.5,2649.9 779.7,2650.8 780.8,2651.8 782,2652.7 783.2,2653.7 784.4,2654.6 785.5,2655.5 786.7,2656.5 787.9,2657.4 789,2658.4 790.2,2659.3 791.3,2660.3 792.5,2661.2 793.6,2662.2 794.8,2663.1 796,2664.1 797.1,2665.1 798.3,2666 799.4,2667 800.6,2667.9 801.7,2668.9 802.9,2669.9 804,2670.8 805.2,2671.8 806.3,2672.8 807.5,2673.7 808.6,2674.7 809.8,2675.7 810.9,2676.6 812.1,2677.6 813.2,2678.6 814.4,2679.5 815.5,2680.5 816.6,2681.5 817.8,2682.4 818.9,2683.4 820.1,2684.4 821.2,2685.3 822.3,2686.3 823.5,2687.3 824.6,2688.3 825.7,2689.3 826.9,2690.3 828,2691.2 829.1,2692.2 830.3,2693.2 831.4,2694.2 832.5,2695.2 833.7,2696.2 834.8,2697.2 835.9,2698.1 837.1,2699.1 838.2,2700.1 839.3,2701.1 840.5,2702.1 841.6,2703 842.7,2704 843.9,2705 845,2706 846.2,2706.9 847.3,2707.9 848.5,2708.8 849.6,2709.8 850.8,2710.7 852,2711.7 853.1,2712.6 854.3,2713.6 855.5,2714.5 856.7,2715.4 857.8,2716.4 859,2717.3 860.2,2718.2 861.3,2719.2 862.5,2720.1 863.7,2721 864.9,2722 866,2722.9 867.2,2723.8 868.4,2724.8 869.6,2725.7 870.8,2726.6 872,2727.5 873.2,2728.4 874.4,2729.3 875.6,2730.2 876.8,2731.1 878,2732 879.2,2732.9 880.4,2733.8 881.6,2734.7 882.8,2735.5 884.1,2736.4 885.3,2737.2 886.5,2738.1 887.8,2738.9 889,2739.8 890.3,2740.6 891.5,2741.4 892.8,2742.2 894.1,2743 895.3,2743.8 896.6,2744.6 897.9,2745.4 899.2,2746.2 900.5,2746.9 901.7,2747.7 903,2748.5 904.3,2749.2 905.6,2750 906.9,2750.8 908.2,2751.5 909.5,2752.3 910.8,2753 912.1,2753.7 913.4,2754.4 914.8,2755.2 916.1,2755.9 917.4,2756.6 918.7,2757.2 920.1,2757.9 921.4,2758.6 922.8,2759.2 924.1,2759.9 925.5,2760.5 926.9,2761.1 928.2,2761.7 929.6,2762.3 931,2762.9 932.4,2763.5 933.8,2764.1 935.1,2764.6 936.5,2765.2 937.9,2765.8 939.3,2766.3 940.7,2766.9 942.1,2767.4 943.5,2768 944.9,2768.5 946.3,2769 947.7,2769.6 949.1,2770.1 950.5,2770.6 952,2771 953.4,2771.5 954.8,2772 956.2,2772.4 957.7,2772.9 959.1,2773.3 960.6,2773.7 962,2774.1 963.5,2774.4 964.9,2774.8 966.4,2775.1 967.9,2775.4 969.3,2775.7 970.8,2775.9 972.3,2776.2 973.8,2776.5 975.2,2776.8 976.7,2777 978.2,2777.3 979.7,2777.5 981.2,2777.8 982.6,2778 984.1,2778.3 985.6,2778.5 987.1,2778.7 988.6,2778.9 990.1,2779.1 991.5,2779.3 993,2779.5 994.5,2779.7 996,2779.8 997.5,2780 999,2780.1 1000.5,2780.2 1002,2780.4 1003.5,2780.5 1005,2780.5 1006.5,2780.6 1008,2780.7 1009.5,2780.7 1011,2780.8 1012.5,2780.9 1014,2780.9 1015.5,2781 1017,2781 1018.5,2781.1 1020,2781.1 1021.5,2781.2 1023,2781.2 1024.5,2781.3 1026,2781.3 1027.5,2781.3 1029,2781.4 1030.5,2781.4 1032,2781.4 1033.5,2781.5 1035,2781.5 1036.5,2781.5 1038,2781.5 1039.5,2781.5 1041,2781.6 1042.5,2781.6 1044,2781.6 1044.4,2781.6" fill="none" stroke="#0000ff" stroke-width="2.6" stroke-linejoin="round" marker-start="url(#mb1)" marker-mid="url(#mb1)" marker-end="url(#mb1)"/>
<polyline points="367,1822 434.1,1940.5 473.3,2000.7 501.2,2053.3 522.8,2103 540.4,2150.5 555.3,2192.6 568.2,2227.9 579.6,2260.1 589.8,2292.1 599.1,2320.6 607.5,2345.6 615.2,2370.1 622.4,2390.1 629.1,2409.7 635.3,2428.9 641.2,2444.7 646.7,2461 651.9,2474.9 656.9,2487.2 661.6,2498.4 666.1,2508.5 670.4,2517.8 674.6,2526.3 678.5,2534.1 682.3,2541.3 686,2547.9 689.5,2554.2 692.9,2559.9 696.1,2565.1 699.3,2569.8 702.4,2573.8 705.4,2577.3 708.3,2580.3 711.1,2583 713.8,2585.5 716.4,2588 719,2590.6 721.5,2593.2 724,2596 726.4,2598.7 728.7,2601.3 731,2603.8 733.2,2606.2 735.4,2608.4 737.5,2610.4 739.6,2612.2 741.6,2613.8 743.6,2615.3 745.6,2616.7 747.5,2618 749.4,2619.2 751.2,2620.5 753,2621.6 754.8,2622.8 756.5,2624 758.3,2625.1 759.9,2626.2 761.6,2627.3 763.2,2628.3 764.8,2629.3 766.4,2630.3 767.9,2631.3 769.5,2632.2 771,2633.2 772.4,2634.1 773.9,2635.1 775.3,2636.1 776.8,2637.1 778.1,2638.1 779.5,2639.2 780.9,2640.2 782.2,2641.3 783.5,2642.4 784.8,2643.5 786.1,2644.6 787.4,2645.6 788.6,2646.7 789.8,2647.7 791.1,2648.7 792.3,2649.7 793.5,2650.6 794.7,2651.5 795.9,2652.4 797.1,2653.2 798.3,2654.1 799.6,2654.9 800.9,2655.7 802.1,2656.5 803.4,2657.2 804.7,2658 806,2658.8 807.3,2659.6 808.5,2660.4 809.8,2661.2 811.1,2662 812.3,2662.8 813.5,2663.7 814.7,2664.6 815.9,2665.5 817.1,2666.5 818.2,2667.5 819.3,2668.5 820.4,2669.5 821.5,2670.5 822.6,2671.6 823.7,2672.6 824.8,2673.6 825.9,2674.7 826.9,2675.7 828,2676.8 829.1,2677.8 830.2,2678.8 831.3,2679.8 832.4,2680.8 833.6,2681.8 834.7,2682.7 835.9,2683.7 837,2684.7 838.2,2685.6 839.3,2686.6 840.5,2687.6 841.6,2688.5 842.8,2689.5 843.9,2690.4 845.1,2691.4 846.3,2692.3 847.4,2693.2 848.6,2694.2 849.8,2695.1 851,2696 852.1,2697 853.3,2697.9 854.5,2698.8 855.7,2699.7 856.9,2700.6 858.1,2701.5 859.3,2702.5 860.5,2703.4 861.7,2704.3 862.9,2705.2 864.1,2706.1 865.3,2707 866.5,2707.8 867.7,2708.7 868.9,2709.6 870.1,2710.5 871.3,2711.4 872.5,2712.3 873.8,2713.1 875,2714 876.2,2714.9 877.4,2715.8 878.7,2716.6 879.9,2717.5 881.1,2718.3 882.3,2719.2 883.6,2720.1 884.8,2720.9 886,2721.8 887.3,2722.6 888.5,2723.5 889.8,2724.3 891,2725.1 892.2,2726 893.5,2726.8 894.7,2727.7 896,2728.5 897.2,2729.3 898.5,2730.2 899.7,2731 901,2731.8 902.2,2732.7 903.5,2733.5 904.7,2734.3 906,2735.1 907.2,2736 908.5,2736.8 909.7,2737.6 911,2738.4 912.2,2739.2 913.5,2740 914.8,2740.8 916,2741.6 917.3,2742.4 918.6,2743.2 919.9,2744 921.2,2744.8 922.4,2745.6 923.7,2746.3 925,2747.1 926.3,2747.8 927.6,2748.6 928.9,2749.3 930.3,2750 931.6,2750.7 932.9,2751.5 934.2,2752.2 935.5,2752.9 936.9,2753.6 938.2,2754.3 939.5,2755 940.8,2755.7 942.2,2756.3 943.5,2757 944.9,2757.7 946.2,2758.3 947.6,2758.9 949,2759.5 950.3,2760.1 951.7,2760.7 953.1,2761.3 954.5,2761.9 955.9,2762.5 957.3,2763 958.7,2763.6 960.1,2764.1 961.5,2764.6 962.9,2765.2 964.3,2765.7 965.7,2766.2 967.1,2766.7 968.5,2767.1 970,2767.6 971.4,2768.1 972.8,2768.6 974.2,2769 975.7,2769.5 977.1,2769.9 978.5,2770.4 980,2770.8 981.4,2771.2 982.9,2771.6 984.3,2772 985.8,2772.4 987.2,2772.7 988.7,2773.1 990.1,2773.4 991.6,2773.8 993,2774.2 994.5,2774.5 996,2774.9 997.4,2775.2 998.9,2775.5 1000.3,2775.9 1001.8,2776.2 1003.3,2776.5 1004.8,2776.7 1006.2,2777 1007.7,2777.2 1009.2,2777.4 1010.7,2777.6 1012.2,2777.7 1013.7,2777.8 1015.2,2777.8 1016.7,2777.9 1018.2,2778 1019.7,2778.1 1021.2,2778.1 1022.7,2778.2 1024.2,2778.2 1025.7,2778.3 1027.2,2778.3 1028.7,2778.4 1030.2,2778.4 1031.7,2778.5 1033.2,2778.5 1034.7,2778.6 1036.2,2778.6 1037.7,2778.6 1039.2,2778.6 1040.7,2778.7 1042.2,2778.7 1043.7,2778.7 1045.2,2778.7 1046.7,2778.7 1048.2,2778.7 1049.7,2778.7 1051.2,2778.7 1052.7,2778.7 1054.2,2778.7 1055.7,2778.7 1057.2,2778.7 1057.8,2778.7" fill="none" stroke="#ff0000" stroke-width="3" stroke-linejoin="round" marker-start="url(#mb2)" marker-mid="url(#mb2)" marker-end="url(#mb2)"/>
<polyline points="367,1822 434.1,1830 473.3,1838.8 501.2,1851.1 522.8,1866.5 540.4,1883.7 555.3,1902.9 568.2,1935.4 579.6,1967 589.8,1995.9 599.1,2023.8 607.5,2050.5 615.2,2075.2 622.4,2099.5 629.1,2122.5 635.3,2144.3 641.2,2164.9 646.7,2184.7 651.9,2202.6 656.9,2221 661.6,2238.3 666.1,2254.9 670.4,2264.3 674.6,2275.6 678.5,2288.3 682.3,2302.2 686,2315.9 689.5,2328.4 692.9,2340.3 696.1,2351.5 699.3,2361.9 702.4,2371.6 705.4,2380.9 708.3,2389.9 711.1,2398.8 713.8,2407.3 716.4,2415.6 719,2423.6 721.5,2431.4 724,2438.9 726.4,2446.2 728.7,2453.3 731,2460.2 733.2,2466.9 735.4,2473.6 737.5,2479.9 739.6,2485.8 741.6,2491.5 743.6,2497 745.6,2502.4 747.5,2507.5 749.4,2512.5 751.2,2517.3 753,2521.9 754.8,2526.3 756.5,2530.5 758.3,2534.6 759.9,2538.4 761.6,2542 763.2,2545.4 764.8,2548.6 766.4,2551.7 767.9,2554.6 769.5,2557.3 771,2559.9 772.4,2562.3 773.9,2564.7 775.3,2566.9 776.8,2569.1 778.1,2571.2 779.5,2573.3 780.9,2575.3 782.2,2577.3 783.5,2579.2 784.8,2581.1 786.1,2583 787.4,2584.9 788.6,2586.7 789.8,2588.6 791.1,2590.5 792.3,2592.4 793.5,2594.3 794.6,2596.2 795.8,2598.1 796.9,2600 798.1,2602 799.2,2603.9 800.3,2605.8 801.4,2607.7 802.5,2609.7 803.5,2611.6 804.6,2613.5 805.6,2615.3 806.7,2617.2 807.7,2619.1 808.7,2620.9 809.7,2622.7 810.7,2624.5 811.7,2626.2 812.7,2628 813.6,2629.7 814.6,2631.4 815.5,2633 816.5,2634.6 817.4,2636.2 818.3,2637.8 819.2,2639.4 820.1,2640.9 821,2642.3 821.9,2643.8 822.8,2645.2 823.6,2646.6 824.5,2647.9 825.3,2649.2 826.2,2650.5 827,2651.7 827.9,2652.9 828.7,2654.2 829.6,2655.4 830.5,2656.6 831.4,2657.8 832.3,2659 833.2,2660.2 834.1,2661.4 835.1,2662.6 836,2663.7 837,2664.9 837.9,2666.1 838.9,2667.2 839.8,2668.4 840.8,2669.5 841.8,2670.6 842.8,2671.8 843.7,2672.9 844.7,2674 845.7,2675.1 846.7,2676.3 847.7,2677.4 848.7,2678.5 849.7,2679.6 850.8,2680.7 851.8,2681.8 852.8,2682.9 853.8,2684 854.8,2685.1 855.9,2686.2 856.9,2687.3 857.9,2688.4 859,2689.4 860.1,2690.5 861.1,2691.6 862.2,2692.6 863.2,2693.7 864.3,2694.7 865.4,2695.8 866.5,2696.8 867.5,2697.9 868.6,2698.9 869.7,2700 870.7,2701 871.8,2702.1 872.9,2703.1 873.9,2704.2 875,2705.2 876.1,2706.3 877.1,2707.4 878.2,2708.4 879.2,2709.5 880.3,2710.6 881.3,2711.7 882.4,2712.7 883.4,2713.8 884.4,2714.9 885.5,2716 886.5,2717 887.6,2718.1 888.7,2719.2 889.7,2720.2 890.8,2721.3 891.8,2722.3 892.9,2723.4 894,2724.4 895.1,2725.4 896.2,2726.5 897.3,2727.5 898.4,2728.5 899.6,2729.5 900.7,2730.5 901.8,2731.4 903,2732.4 904.1,2733.4 905.2,2734.4 906.4,2735.3 907.5,2736.3 908.7,2737.2 909.9,2738.2 911,2739.1 912.2,2740.1 913.4,2741 914.6,2741.9 915.8,2742.8 917,2743.7 918.2,2744.6 919.4,2745.4 920.7,2746.3 921.9,2747.1 923.1,2748 924.4,2748.8 925.6,2749.6 926.9,2750.5 928.1,2751.3 929.4,2752.1 930.7,2752.9 932,2753.7 933.2,2754.4 934.5,2755.2 935.8,2756 937.1,2756.7 938.4,2757.4 939.8,2758.1 941.1,2758.8 942.4,2759.5 943.8,2760.2 945.1,2760.8 946.5,2761.4 947.9,2762.1 949.2,2762.7 950.6,2763.3 952,2763.8 953.4,2764.4 954.8,2765 956.2,2765.5 957.6,2766.1 959,2766.6 960.4,2767.1 961.8,2767.6 963.2,2768.1 964.6,2768.6 966,2769.1 967.5,2769.6 968.9,2770.1 970.3,2770.6 971.7,2771.1 973.1,2771.6 974.5,2772.1 975.9,2772.6 977.4,2773.1 978.8,2773.5 980.2,2774 981.7,2774.4 983.1,2774.8 984.6,2775.2 986,2775.6 987.5,2775.9 989,2776.2 990.4,2776.4 991.9,2776.6 993.4,2776.8 994.9,2777 996.4,2777.2 997.9,2777.4 999.4,2777.6 1000.8,2777.7 1002.3,2777.9 1003.8,2778 1005.3,2778.2 1006.8,2778.3 1008.3,2778.4 1009.8,2778.5 1011.3,2778.6 1012.8,2778.7 1014.3,2778.8 1015.8,2778.8 1017.3,2778.9 1018.8,2779 1020.3,2779 1021.8,2779.1 1023.3,2779.2 1024.8,2779.2 1026.3,2779.3 1027.8,2779.3 1029.3,2779.4 1030.8,2779.4 1032.3,2779.5 1033.8,2779.5 1035.3,2779.6 1036.8,2779.6 1038.3,2779.6 1039.8,2779.6 1041.3,2779.6 1042.8,2779.7 1044.3,2779.7 1045.8,2779.7 1047.3,2779.7 1048.8,2779.7 1050.3,2779.7 1051.8,2779.7 1053.3,2779.7 1054.8,2779.7 1056.3,2779.7 1057.8,2779.7 1059.3,2779.7 1060.8,2779.7 1062.3,2779.7 1063.8,2779.7 1065.3,2779.7 1066.8,2779.7 1068.3,2779.7 1069.8,2779.7 1071.3,2779.7 1072.8,2779.7 1074.3,2779.7 1075.8,2779.7 1077.3,2779.7 1078.8,2779.7 1080.3,2779.7 1081.8,2779.7 1083.3,2779.7 1084.8,2779.7 1086.3,2779.7 1087.8,2779.7 1089.3,2779.7 1090.8,2779.7 1092.3,2779.7 1093.8,2779.7 1095.3,2779.7 1096.8,2779.7 1098.3,2779.7 1099.8,2779.7 1101.3,2779.7 1102.8,2779.7 1104.3,2779.7 1105.8,2779.7 1107.3,2779.7 1108.8,2779.7 1110.3,2779.7 1111.8,2779.7 1113.3,2779.7 1114.8,2779.7 1116.3,2779.7 1117.8,2779.7 1117.9,2779.7" fill="none" stroke="#000080" stroke-width="2.6" stroke-linejoin="round" marker-start="url(#mb3)" marker-mid="url(#mb3)" marker-end="url(#mb3)"/>
<polyline points="367,1822 386.2,1822 450.5,1822.4 488.8,1822.9 516.1,1823.3 537.4,1823.7 554.9,1824 569.7,1824.4 582.5,1824.7 593.8,1825 603.9,1825.5 613.1,1826.2 621.5,1826.9 629.2,1827.6 636.3,1828.4 643,1829.1 649.2,1829.8 655.1,1830.4 660.6,1831.1 665.8,1831.7 670.7,1832.4 675.4,1833 679.9,1833.7 684.2,1834.4 688.3,1835 692.3,1835.6 696.1,1836.2 699.7,1836.8 703.2,1837.3 706.6,1837.8 709.9,1838.3 713,1838.8 716.1,1839.3 719.1,1839.8 722,1840.2 724.8,1840.7 727.5,1841.1 730.1,1841.6 732.7,1842.1 735.2,1842.6 737.7,1843.1 740,1843.6 742.4,1844.2 744.6,1844.8 746.9,1845.4 749,1846 751.2,1846.6 753.2,1847.3 755.3,1847.9 757.3,1848.6 759.2,1849.3 761.1,1850 763,1850.6 764.9,1851.3 766.7,1852 768.4,1852.8 770.2,1853.5 771.9,1854.2 773.6,1855 775.2,1855.7 776.8,1856.5 778.4,1857.3 780,1858 781.6,1858.8 783.1,1859.5 784.6,1860.3 786.1,1861 787.5,1861.8 788.9,1862.6 790.4,1863.3 791.8,1864.1 793.1,1864.9 794.5,1865.7 795.8,1866.4 797.1,1867.2 798.4,1868 799.7,1868.8 801,1869.6 802.2,1870.4 803.5,1871.2 804.8,1872 806,1872.8 807.3,1873.6 808.5,1874.5 809.8,1875.3 811,1876.2 812.2,1877 813.5,1877.9 814.7,1878.8 815.9,1879.7 817.1,1880.6 818.3,1881.5 819.5,1882.4 820.6,1883.3 821.8,1884.3 822.9,1885.2 824.1,1886.2 825.2,1887.2 826.3,1888.2 827.5,1889.2 828.6,1890.2 829.7,1891.2 830.7,1892.3 831.8,1893.3 832.9,1894.4 833.9,1895.4 835,1896.5 836,1897.6 837,1898.7 838,1899.8 839,1900.9 840,1902.1 841,1903.2 842,1904.3 843,1905.5 843.9,1906.6 844.8,1907.8 845.8,1909 846.7,1910.2 847.6,1911.3 848.5,1912.5 849.4,1913.7 850.3,1915 851.2,1916.2 852.1,1917.4 852.9,1918.6 853.8,1919.9 854.6,1921.1 855.4,1922.4 856.2,1923.6 857,1924.9 857.8,1926.2 858.6,1927.4 859.4,1928.7 860.2,1930 860.9,1931.3 861.7,1932.6 862.4,1933.9 863.1,1935.2 863.9,1936.5 864.6,1937.9 865.3,1939.2 866,1940.5 866.6,1941.9 867.3,1943.2 867.9,1944.6 868.6,1945.9 869.2,1947.3 869.7,1948.7 870.3,1950.1 870.9,1951.5 871.4,1952.8 872,1954.2 872.5,1955.6 873.1,1957 873.6,1958.4 874.1,1959.8 874.7,1961.3 875.2,1962.7 875.7,1964.1 876.2,1965.5 876.8,1966.9 877.3,1968.3 877.8,1969.7 878.3,1971.1 878.8,1972.5 879.3,1973.9 879.8,1975.3 880.3,1976.7 880.8,1978.2 881.3,1979.6 881.8,1981 882.3,1982.4 882.8,1983.8 883.2,1985.3 883.7,1986.7 884.2,1988.1 884.7,1989.5 885.2,1990.9 885.7,1992.3 886.2,1993.7 886.8,1995.2 887.3,1996.6 887.8,1998 888.3,1999.4 888.8,2000.8 889.3,2002.2 889.8,2003.6 890.3,2005 890.8,2006.5 891.3,2007.9 891.7,2009.3 892.2,2010.7 892.6,2012.2 893.1,2013.6 893.5,2015 893.9,2016.5 894.3,2017.9 894.7,2019.4 895.2,2020.8 895.5,2022.3 895.9,2023.7 896.3,2025.2 896.7,2026.6 897.1,2028.1 897.4,2029.5 897.8,2031 898.1,2032.4 898.4,2033.9 898.8,2035.4 899.1,2036.8 899.4,2038.3 899.7,2039.8 900,2041.2 900.3,2042.7 900.6,2044.2 900.9,2045.7 901.1,2047.1 901.4,2048.6 901.7,2050.1 902,2051.6 902.2,2053 902.5,2054.5 902.8,2056 903,2057.5 903.3,2058.9 903.5,2060.4 903.8,2061.9 904,2063.4 904.3,2064.8 904.5,2066.3 904.8,2067.8 905,2069.3 905.3,2070.8 905.5,2072.2 905.8,2073.7 906,2075.2 906.3,2076.7 906.5,2078.2 906.8,2079.6 907,2081.1 907.3,2082.6 907.5,2084.1 907.7,2085.6 908,2087 908.2,2088.5 908.5,2090 908.7,2091.5 909,2093 909.2,2094.4 909.5,2095.9 909.7,2097.4 910,2098.9 910.2,2100.4 910.5,2101.8 910.7,2103.3 911,2104.8 911.2,2106.3 911.5,2107.8 911.7,2109.2 912,2110.7 912.2,2112.2 912.4,2113.7 912.7,2115.2 912.9,2116.6 913.2,2118.1 913.4,2119.6 913.6,2121.1 913.9,2122.6 914.1,2124 914.3,2125.5 914.6,2127 914.8,2128.5 915,2130 915.3,2131.4 915.5,2132.9 915.7,2134.4 916,2135.9 916.2,2137.4 916.4,2138.9 916.6,2140.3 916.9,2141.8 917.1,2143.3 917.3,2144.8 917.5,2146.3 917.8,2147.8 918,2149.2 918.2,2150.7 918.4,2152.2 918.7,2153.7 918.9,2155.2 919.1,2156.7 919.3,2158.1 919.5,2159.6 919.8,2161.1 920,2162.6 920.2,2164.1 920.4,2165.6 920.6,2167 920.9,2168.5 921.1,2170 921.3,2171.5 921.5,2173 921.7,2174.5 921.9,2176 922.1,2177.4 922.4,2178.9 922.6,2180.4 922.8,2181.9 923,2183.4 923.2,2184.9 923.4,2186.4 923.6,2187.8 923.8,2189.3 924,2190.8 924.2,2192.3 924.4,2193.8 924.6,2195.3 924.8,2196.8 925,2198.2 925.2,2199.7 925.4,2201.2 925.6,2202.7 925.7,2204.2 925.9,2205.7 926.1,2207.2 926.3,2208.7 926.5,2210.2 926.7,2211.6 926.8,2213.1 927,2214.6 927.2,2216.1 927.4,2217.6 927.6,2219.1 927.8,2220.6 927.9,2222.1 928.1,2223.6 928.3,2225 928.5,2226.5 928.6,2228 928.8,2229.5 929,2231 929.1,2232.5 929.3,2234 929.5,2235.5 929.6,2237 929.8,2238.5 930,2239.9 930.1,2241.4 930.3,2242.9 930.4,2244.4 930.6,2245.9 930.7,2247.4 930.9,2248.9 931,2250.4 931.2,2251.9 931.3,2253.4 931.5,2254.9 931.6,2256.4 931.8,2257.9 931.9,2259.4 932,2260.8 932.2,2262.3 932.3,2263.8 932.4,2265.3 932.6,2266.8 932.7,2268.3 932.8,2269.8 932.9,2271.3 933,2272.8 933.1,2274.3 933.2,2275.8 933.3,2277.3 933.4,2278.8 933.5,2280.3 933.6,2281.8 933.7,2283.3 933.8,2284.8 933.9,2286.3 934,2287.8 934.1,2289.3 934.2,2290.8 934.3,2292.3 934.4,2293.8 934.5,2295.3 934.6,2296.7 934.8,2298.2 934.9,2299.7 935,2301.2 935.1,2302.7 935.3,2304.2 935.4,2305.7 935.6,2307.2 935.7,2308.7 935.8,2310.2 936,2311.7 936.1,2313.2 936.3,2314.7 936.5,2316.2 936.6,2317.7 936.8,2319.1 936.9,2320.6 937.1,2322.1 937.3,2323.6 937.4,2325.1 937.6,2326.6 937.8,2328.1 937.9,2329.6 938.1,2331.1 938.3,2332.6 938.5,2334.1 938.6,2335.5 938.8,2337 939,2338.5 939.2,2340 939.3,2341.5 939.5,2343 939.7,2344.5 939.9,2346 940,2347.5 940.2,2349 940.4,2350.4 940.5,2351.9 940.7,2353.4 940.9,2354.9 941,2356.4 941.2,2357.9 941.3,2359.4 941.5,2360.9 941.6,2362.4 941.8,2363.9 941.9,2365.4 942.1,2366.9 942.2,2368.3 942.4,2369.8 942.5,2371.3 942.7,2372.8 942.8,2374.3 943,2375.8 943.1,2377.3 943.3,2378.8 943.4,2380.3 943.6,2381.8 943.7,2383.3 943.9,2384.8 944,2386.3 944.2,2387.7 944.3,2389.2 944.5,2390.7 944.6,2392.2 944.8,2393.7 944.9,2395.2 945.1,2396.7 945.2,2398.2 945.4,2399.7 945.5,2401.2 945.7,2402.7 945.8,2404.2 945.9,2405.7 946.1,2407.2 946.2,2408.6 946.4,2410.1 946.5,2411.6 946.7,2413.1 946.8,2414.6 947,2416.1 947.1,2417.6 947.3,2419.1 947.4,2420.6 947.6,2422.1 947.7,2423.6 947.9,2425.1 948,2426.6 948.2,2428 948.3,2429.5 948.5,2431 948.6,2432.5 948.8,2434 948.9,2435.5 949.1,2437 949.2,2438.5 949.4,2440 949.6,2441.5 949.7,2443 949.9,2444.5 950,2446 950.2,2447.4 950.3,2448.9 950.5,2450.4 950.6,2451.9 950.8,2453.4 950.9,2454.9 951.1,2456.4 951.2,2457.9 951.4,2459.4 951.5,2460.9 951.7,2462.4 951.8,2463.9 952,2465.4 952.1,2466.8 952.3,2468.3 952.4,2469.8 952.6,2471.3 952.7,2472.8 952.9,2474.3 953,2475.8 953.2,2477.3 953.3,2478.8 953.5,2480.3 953.6,2481.8 953.8,2483.3 953.9,2484.8 954.1,2486.3 954.2,2487.7 954.4,2489.2 954.5,2490.7 954.6,2492.2 954.8,2493.7 954.9,2495.2 955.1,2496.7 955.2,2498.2 955.4,2499.7 955.5,2501.2 955.7,2502.7 955.8,2504.2 956,2505.7 956.1,2507.2 956.3,2508.6 956.4,2510.1 956.6,2511.6 956.7,2513.1 956.9,2514.6 957,2516.1 957.2,2517.6 957.3,2519.1 957.5,2520.6 957.6,2522.1 957.8,2523.6 957.9,2525.1 958.1,2526.6 958.2,2528 958.4,2529.5 958.5,2531 958.7,2532.5 958.8,2534 959,2535.5 959.2,2537 959.3,2538.5 959.5,2540 959.6,2541.5 959.8,2543 960,2544.5 960.1,2545.9 960.3,2547.4 960.4,2548.9 960.6,2550.4 960.8,2551.9 960.9,2553.4 961.1,2554.9 961.2,2556.4 961.4,2557.9 961.6,2559.4 961.7,2560.9 961.9,2562.3 962.1,2563.8 962.2,2565.3 962.4,2566.8 962.6,2568.3 962.7,2569.8 962.9,2571.3 963.1,2572.8 963.2,2574.3 963.4,2575.8 963.6,2577.3 963.7,2578.7 963.9,2580.2 964.1,2581.7 964.3,2583.2 964.4,2584.7 964.6,2586.2 964.8,2587.7 965,2589.2 965.1,2590.7 965.3,2592.2 965.5,2593.6 965.7,2595.1 965.9,2596.6 966,2598.1 966.2,2599.6 966.4,2601.1 966.6,2602.6 966.8,2604.1 966.9,2605.6 967.1,2607 967.3,2608.5 967.5,2610 967.7,2611.5 967.8,2613 968,2614.5 968.2,2616 968.4,2617.5 968.6,2619 968.8,2620.4 969,2621.9 969.1,2623.4 969.3,2624.9 969.5,2626.4 969.7,2627.9 969.9,2629.4 970.1,2630.9 970.3,2632.3 970.5,2633.8 970.7,2635.3 970.9,2636.8 971.1,2638.3 971.3,2639.8 971.5,2641.3 971.7,2642.7 972,2644.2 972.2,2645.7 972.4,2647.2 972.6,2648.7 972.8,2650.2 973.1,2651.6 973.3,2653.1 973.5,2654.6 973.8,2656.1 974,2657.6 974.2,2659.1 974.5,2660.5 974.7,2662 974.9,2663.5 975.2,2665 975.4,2666.5 975.7,2667.9 975.9,2669.4 976.2,2670.9 976.4,2672.4 976.7,2673.9 976.9,2675.3 977.2,2676.8 977.4,2678.3 977.7,2679.8 977.9,2681.3 978.2,2682.7 978.5,2684.2 978.7,2685.7 979,2687.2 979.3,2688.6 979.6,2690.1 979.8,2691.6 980.1,2693 980.4,2694.5 980.7,2696 981,2697.5 981.3,2698.9 981.6,2700.4 981.9,2701.9 982.2,2703.3 982.6,2704.8 982.9,2706.3 983.2,2707.7 983.6,2709.2 983.9,2710.6 984.3,2712.1 984.6,2713.6 985,2715 985.4,2716.5 985.7,2717.9 986.1,2719.4 986.5,2720.8 986.9,2722.3 987.3,2723.7 987.8,2725.1 988.2,2726.6 988.7,2728 989.1,2729.4 989.7,2730.8 990.2,2732.2 990.7,2733.6 991.3,2735 991.9,2736.4 992.5,2737.8 993.1,2739.2 993.7,2740.5 994.4,2741.9 995,2743.2 995.7,2744.6 996.4,2745.9 997.1,2747.2 997.8,2748.5 998.6,2749.8 999.4,2751.1 1000.1,2752.4 1000.9,2753.6 1001.8,2754.9 1002.6,2756.2 1003.4,2757.4 1004.2,2758.7 1005.1,2759.9 1006,2761.1 1006.9,2762.3 1007.8,2763.5 1008.7,2764.7 1009.7,2765.8 1010.7,2766.9 1011.8,2768 1012.9,2768.9 1014.1,2769.8 1015.3,2770.7 1016.5,2771.6 1017.8,2772.5 1019,2773.3 1020.3,2774.2 1021.5,2774.9 1022.8,2775.7 1024.2,2776.3 1025.6,2776.9 1027,2777.4 1028.5,2777.7 1029.9,2777.9 1031.4,2778 1032.9,2778 1034.4,2778 1035.9,2778.1 1037.4,2778.1 1038.9,2778.1 1040.4,2778.2 1041.9,2778.2 1043.4,2778.2 1044.9,2778.3 1046.4,2778.3 1047.9,2778.3 1049.4,2778.3 1050.9,2778.4 1052.4,2778.4 1053.9,2778.4 1055.4,2778.4 1056.9,2778.4 1058.4,2778.5 1059.9,2778.5 1061.4,2778.5 1062.9,2778.5 1064.4,2778.5 1065.9,2778.5 1067.4,2778.6 1068.9,2778.6 1070.4,2778.6 1071.9,2778.6 1073.4,2778.6 1074.9,2778.6 1076.4,2778.6 1077.9,2778.6 1079.4,2778.6 1080.9,2778.7 1082.4,2778.7 1083.9,2778.7 1085.4,2778.7 1086.9,2778.7 1088.4,2778.7 1089.9,2778.7 1091.4,2778.7 1092.9,2778.7 1094.4,2778.7 1095.9,2778.7 1097.4,2778.7 1098.9,2778.7 1100.4,2778.7 1101.9,2778.7 1103.4,2778.7 1104.9,2778.7 1106.4,2778.7 1107.9,2778.7 1109.4,2778.7 1110.9,2778.7 1112.4,2778.7 1113.9,2778.7 1115.4,2778.7 1116.9,2778.7 1118.4,2778.7 1119.9,2778.7 1121.4,2778.7 1122.9,2778.7 1124.4,2778.7 1125.9,2778.7 1127.4,2778.7 1128.9,2778.7 1130.4,2778.7 1131.9,2778.7 1133.4,2778.7 1134.9,2778.7 1136.4,2778.7 1137.9,2778.7 1139.4,2778.7 1140.9,2778.7 1142.4,2778.7 1143.9,2778.7 1145.4,2778.7 1146.9,2778.7 1148.4,2778.7 1149.9,2778.7 1151.4,2778.7 1152.9,2778.7 1154.4,2778.7 1155.9,2778.7 1157.4,2778.7 1158.9,2778.7 1160.4,2778.7 1161.9,2778.7 1163.4,2778.7 1164.9,2778.7 1166.4,2778.7 1167.9,2778.7 1169.4,2778.7 1170.9,2778.7 1172.4,2778.7 1173.9,2778.7 1175.4,2778.7 1176.9,2778.7 1178.4,2778.7 1179.9,2778.7 1181.4,2778.7 1182.9,2778.7 1184.4,2778.7 1185.9,2778.7 1187.4,2778.7 1188.9,2778.7 1190.4,2778.7 1191.9,2778.7 1193.4,2778.7 1194.9,2778.7 1196.4,2778.7 1197.9,2778.7 1199.4,2778.7 1200.9,2778.7 1202.4,2778.7 1203.9,2778.7 1205.4,2778.7 1206.9,2778.7 1208.4,2778.7 1209.9,2778.7 1211.4,2778.7 1212.9,2778.7 1214.4,2778.7 1215.9,2778.7 1217.4,2778.7 1218.9,2778.7 1220.4,2778.7 1221.9,2778.7 1223.4,2778.7 1224.9,2778.7 1226.4,2778.7 1227.9,2778.7 1229.4,2778.7 1230.9,2778.7 1232.4,2778.7 1233.9,2778.7 1235.4,2778.7 1236.9,2778.7 1238.4,2778.7 1239.9,2778.7 1241.4,2778.7 1242.9,2778.7 1244.4,2778.7 1245.9,2778.7 1247.4,2778.7 1248.9,2778.7 1250.4,2778.7 1251.9,2778.7 1253.4,2778.7 1254.9,2778.7 1256.4,2778.7 1257.9,2778.7 1259.4,2778.7 1260.9,2778.7 1262.4,2778.7 1263.9,2778.7 1265.4,2778.7 1266.9,2778.7 1268.4,2778.7 1269.9,2778.7 1271.4,2778.7 1272.9,2778.7 1274.4,2778.7 1275.9,2778.7 1277.4,2778.7 1278.9,2778.7 1280.4,2778.7 1281.9,2778.7 1283.4,2778.7 1284.9,2778.7 1286.4,2778.7 1287.9,2778.7 1289.4,2778.7 1290.9,2778.7 1292.4,2778.7 1293.9,2778.7 1295.4,2778.7 1296.9,2778.7 1298.4,2778.7 1299.9,2778.7 1301.4,2778.7 1302.9,2778.7 1304.4,2778.7 1305.9,2778.7 1307.4,2778.7 1308.9,2778.7 1310.4,2778.7 1311.9,2778.7 1313.4,2778.7 1314.9,2778.7 1316.4,2778.7 1317.9,2778.7 1319.4,2778.7 1320.9,2778.7 1322.4,2778.7 1323.9,2778.7 1325.4,2778.7 1326.9,2778.7 1328.4,2778.7 1329.9,2778.7 1331.4,2778.7 1332.9,2778.7 1334.4,2778.7 1335.9,2778.7 1337.4,2778.7 1338.9,2778.7 1340.4,2778.7 1341.9,2778.7 1343.4,2778.7 1344.9,2778.7 1346.4,2778.7 1347.9,2778.7 1349.4,2778.7 1350.9,2778.7 1352.4,2778.7 1353.9,2778.7 1355.4,2778.7 1356.9,2778.7 1358.4,2778.7 1358.6,2778.7" fill="none" stroke="#008000" stroke-width="2" stroke-linejoin="round" marker-start="url(#mb4)" marker-mid="url(#mb4)" marker-end="url(#mb4)"/>
<polyline points="367,1822 745.6,1824 812.7,1827.7 851.9,1830.4 879.7,1833.1 901.3,1835.7 919,1838.3 933.9,1840.8 946.8,1843.6 958.2,1847.1 968.4,1851 977.6,1855 986.1,1859 993.8,1863.3 1001,1868.1 1007.6,1873.2 1013.9,1878.7 1019.8,1884.4 1025.3,1890.3 1030.5,1896.3 1035.5,1903.4 1040.2,1911.2 1044.7,1919.5 1049,1927.9 1053.1,1936.2 1057.1,1944.9 1060.9,1954 1064.5,1963.2 1068.1,1972.4 1071.4,1981.5 1074.7,1990.5 1077.9,1999.6 1081,2008.7 1084,2017.8 1086.8,2026.9 1089.6,2036.1 1092.4,2045.5 1095,2055.1 1097.6,2064.7 1100.1,2074.3 1102.6,2083.7 1105,2092.9 1107.3,2101.9 1109.6,2110.8 1111.8,2119.6 1114,2128.4 1116.1,2137.1 1118.2,2145.8 1120.2,2154.6 1122.2,2163.3 1124.2,2172 1126.1,2180.8 1128,2189.4 1129.8,2198.1 1131.6,2206.7 1133.4,2215.2 1135.1,2223.8 1136.8,2232.4 1138.5,2240.9 1140.2,2249.3 1141.8,2257.6 1143.4,2265.8 1145,2273.9 1146.5,2281.8 1148.1,2289.7 1149.6,2297.5 1151,2305.3 1152.5,2312.9 1153.9,2320.4 1155.3,2327.9 1156.7,2335.3 1158.1,2342.8 1159.5,2350.2 1160.8,2357.4 1162.1,2364.5 1163.4,2371.4 1164.7,2378.1 1165.9,2384.6 1167.2,2390.9 1168.4,2397.1 1169.6,2403.2 1170.8,2409.1 1172,2415 1173.2,2420.8 1174.4,2426.5 1175.5,2432.1 1176.6,2437.7 1177.8,2443.1 1178.9,2448.4 1180,2453.7 1181,2458.9 1182.1,2464 1183.2,2469 1184.2,2473.9 1185.3,2478.8 1186.3,2483.6 1187.3,2488.3 1188.3,2492.9 1189.3,2497.5 1190.3,2502 1191.2,2506.5 1192.2,2510.8 1193.2,2515.1 1194.1,2519.4 1195,2523.6 1196,2527.7 1196.9,2531.8 1197.8,2535.8 1198.7,2539.8 1199.6,2543.7 1200.5,2547.5 1201.3,2551.3 1202.2,2555.1 1203.1,2558.9 1203.9,2562.7 1204.8,2566.4 1205.6,2570.1 1206.4,2573.8 1207.3,2577.4 1208.1,2580.9 1208.9,2584.4 1209.7,2587.9 1210.5,2591.2 1211.3,2594.5 1212.1,2597.6 1212.8,2600.7 1213.6,2603.7 1214.4,2606.6 1215.1,2609.4 1215.9,2612 1216.6,2614.6 1217.4,2617 1218.1,2619.3 1218.8,2621.6 1219.6,2623.7 1220.3,2625.8 1221,2627.9 1221.7,2629.9 1222.4,2631.8 1223.1,2633.7 1223.8,2635.6 1224.5,2637.4 1225.2,2639.2 1225.9,2640.9 1226.5,2642.6 1227.2,2644.2 1227.9,2645.8 1228.5,2647.4 1229.2,2649 1229.8,2650.5 1230.5,2651.9 1231.1,2653.4 1231.8,2654.8 1232.4,2656.2 1233,2657.6 1233.7,2658.9 1234.3,2660.3 1235,2661.6 1235.6,2663 1236.3,2664.3 1236.9,2665.7 1237.6,2667 1238.3,2668.3 1239,2669.7 1239.7,2671 1240.4,2672.3 1241.1,2673.7 1241.8,2675 1242.5,2676.3 1243.2,2677.6 1243.9,2678.9 1244.7,2680.2 1245.4,2681.5 1246.2,2682.8 1246.9,2684.1 1247.7,2685.4 1248.4,2686.7 1249.2,2688 1250,2689.3 1250.8,2690.6 1251.6,2691.8 1252.4,2693.1 1253.2,2694.4 1254,2695.7 1254.8,2696.9 1255.6,2698.2 1256.4,2699.4 1257.2,2700.7 1258.1,2701.9 1258.9,2703.2 1259.7,2704.4 1260.6,2705.7 1261.4,2706.9 1262.3,2708.1 1263.2,2709.3 1264,2710.6 1264.9,2711.8 1265.8,2713 1266.6,2714.2 1267.5,2715.4 1268.5,2716.6 1269.4,2717.8 1270.3,2719 1271.2,2720.2 1272.2,2721.3 1273.1,2722.5 1274.1,2723.6 1275.1,2724.8 1276,2725.9 1277,2727.1 1278,2728.2 1278.9,2729.4 1279.9,2730.5 1280.8,2731.7 1281.8,2732.8 1282.7,2734 1283.7,2735.2 1284.6,2736.4 1285.5,2737.6 1286.4,2738.8 1287.2,2740 1288,2741.3 1288.9,2742.5 1289.7,2743.8 1290.5,2745.1 1291.3,2746.3 1292.1,2747.6 1292.9,2748.8 1293.8,2750.1 1294.6,2751.3 1295.5,2752.5 1296.4,2753.7 1297.3,2754.9 1298.3,2756 1299.4,2757.1 1300.5,2758.1 1301.7,2758.9 1303,2759.7 1304.3,2760.4 1305.7,2761.1 1307,2761.8 1308.4,2762.5 1309.7,2763.1 1311.1,2763.7 1312.5,2764.3 1313.9,2764.8 1315.3,2765.4 1316.7,2765.9 1318.1,2766.4 1319.5,2766.8 1321,2767.3 1322.4,2767.7 1323.8,2768.1 1325.3,2768.5 1326.7,2768.9 1328.2,2769.2 1329.6,2769.6 1331.1,2769.9 1332.6,2770.3 1334,2770.6 1335.5,2770.9 1337,2771.2 1338.4,2771.5 1339.9,2771.8 1341.4,2772 1342.9,2772.3 1344.3,2772.6 1345.8,2772.8 1347.3,2773.1 1348.8,2773.3 1350.3,2773.6 1351.7,2773.8 1353.2,2774 1354.7,2774.3 1356.2,2774.5 1357.7,2774.7 1359.2,2774.9 1360.6,2775.1 1362.1,2775.3 1363.6,2775.5 1365.1,2775.7 1366.6,2775.9 1368.1,2776.1 1369.6,2776.3 1371.1,2776.4 1372.5,2776.6 1374,2776.8 1375.5,2777 1377,2777.1 1378.5,2777.3 1380,2777.5 1381.5,2777.6 1383,2777.8 1384.5,2777.9 1386,2778.1 1387.5,2778.2 1389,2778.4 1390.4,2778.5 1391.9,2778.7 1393.4,2778.8 1394.9,2779 1396.4,2779.1 1397.9,2779.3 1399.4,2779.5 1400.9,2779.6 1402.4,2779.8 1403.9,2779.9 1405.4,2780.1 1406.9,2780.2 1408.4,2780.4 1409.8,2780.5 1411.3,2780.7 1412.8,2780.8 1414.3,2781 1415.8,2781.1 1417.3,2781.3 1418.8,2781.4 1420.3,2781.6 1421.8,2781.7 1423.3,2781.9 1424.8,2782 1426.3,2782.2 1427.8,2782.3 1429.2,2782.5 1430.7,2782.6 1432.2,2782.7 1433.7,2782.9 1435.2,2783 1436.7,2783.1 1438.2,2783.3 1439.7,2783.4 1441.2,2783.5 1442.7,2783.6 1444.2,2783.8 1445.7,2783.9 1447.2,2784 1448.7,2784.1 1450.2,2784.2 1451.7,2784.3 1453.2,2784.4 1454.7,2784.5 1456.2,2784.6 1457.7,2784.7 1459.2,2784.7 1460.7,2784.8 1462.2,2784.9 1463.7,2785 1465.2,2785 1466.7,2785.1 1468.2,2785.1 1469.7,2785.2 1471.1,2785.2 1472.6,2785.3 1474.1,2785.3 1475.6,2785.3 1477.1,2785.4 1478.6,2785.4 1480.1,2785.4 1481.6,2785.4 1483.1,2785.4 1484.6,2785.5 1486.1,2785.5 1487.6,2785.5 1489.1,2785.5 1490.6,2785.5 1492.1,2785.5 1493.6,2785.5 1495.1,2785.6 1496.6,2785.6 1498.1,2785.6 1499.6,2785.6 1501.1,2785.6 1502.6,2785.6 1504.1,2785.6 1505.6,2785.6 1507.1,2785.7 1508.6,2785.7 1510.1,2785.7 1511.6,2785.7 1513.1,2785.7 1514.6,2785.7 1516.1,2785.7 1517.6,2785.7 1519.1,2785.7 1520.6,2785.8 1522.1,2785.8 1523.6,2785.8 1525.1,2785.8 1526.6,2785.8 1528.1,2785.8 1529.6,2785.8 1531.1,2785.8 1532.6,2785.8 1534.1,2785.8 1535.6,2785.8 1537.1,2785.8 1538.6,2785.9 1540.1,2785.9 1541.6,2785.9 1543.1,2785.9 1544.6,2785.9 1546.1,2785.9 1547.6,2785.9 1549.1,2785.9 1550.6,2785.9 1552.1,2785.9 1553.6,2785.9 1555.1,2785.9 1556.6,2785.9 1558.1,2785.9 1559.6,2785.9 1561.1,2785.9 1562.6,2785.9 1564.1,2785.9 1565.6,2786 1567.1,2786 1568.6,2786 1570.1,2786 1571.6,2786 1573.1,2786 1574.6,2786 1576.1,2786 1577.6,2786 1579.1,2786 1580.6,2786 1582.1,2786 1583.6,2786 1585,2786" fill="none" stroke="#900000" stroke-width="2" stroke-linejoin="round" marker-start="url(#mb5)" marker-mid="url(#mb5)" marker-end="url(#mb5)"/>
<polyline points="367,1822 540.4,1822.1 599.1,1822.2 635.3,1822.3 661.6,1822.4 682.3,1822.4 699.3,1822.5 713.8,1822.5 726.4,1822.6 737.5,1822.6 747.5,1822.7 756.5,1822.7 764.8,1822.7 772.4,1822.8 779.5,1822.8 786.1,1822.8 792.3,1822.9 798.1,1822.9 803.5,1822.9 808.7,1822.9 813.6,1823 818.3,1823 822.8,1823 827,1823.1 831.1,1823.2 835,1823.2 838.8,1823.3 842.4,1823.4 845.9,1823.4 849.3,1823.5 852.5,1823.6 855.7,1823.7 858.7,1823.8 861.7,1823.9 864.6,1824 867.4,1824 870.1,1824.1 872.7,1824.2 875.3,1824.3 877.8,1824.4 880.2,1824.5 882.6,1824.5 884.9,1824.6 887.2,1824.7 889.4,1824.8 891.6,1824.9 893.7,1825 895.8,1825 897.8,1825.1 899.8,1825.2 901.7,1825.3 903.6,1825.4 905.5,1825.5 907.3,1825.6 909.1,1825.7 910.9,1825.8 912.6,1825.9 914.4,1826 916,1826.1 917.7,1826.3 919.3,1826.4 920.9,1826.5 922.5,1826.6 924,1826.7 925.5,1826.8 927,1826.9 928.5,1827 930,1827.2 931.5,1827.3 933,1827.4 934.5,1827.5 936,1827.6 937.5,1827.8 939,1827.9 940.5,1828 942,1828.1 943.5,1828.3 945,1828.4 946.5,1828.5 947.9,1828.7 949.4,1828.8 950.9,1829 952.4,1829.1 953.9,1829.2 955.4,1829.4 956.9,1829.5 958.4,1829.7 959.9,1829.8 961.4,1829.9 962.9,1830.1 964.4,1830.2 965.9,1830.4 967.4,1830.5 968.9,1830.7 970.3,1830.8 971.8,1831 973.3,1831.1 974.8,1831.3 976.3,1831.4 977.8,1831.6 979.3,1831.8 980.8,1831.9 982.3,1832.1 983.8,1832.3 985.3,1832.4 986.7,1832.6 988.2,1832.8 989.7,1833 991.2,1833.1 992.7,1833.3 994.2,1833.5 995.7,1833.7 997.2,1833.9 998.7,1834.1 1000.1,1834.3 1001.6,1834.5 1003.1,1834.7 1004.6,1834.9 1006.1,1835.1 1007.6,1835.3 1009.1,1835.5 1010.5,1835.8 1012,1836 1013.5,1836.2 1015,1836.4 1016.5,1836.7 1017.9,1836.9 1019.4,1837.2 1020.9,1837.4 1022.4,1837.7 1023.9,1837.9 1025.3,1838.2 1026.8,1838.4 1028.3,1838.7 1029.8,1839 1031.2,1839.2 1032.7,1839.5 1034.2,1839.8 1035.7,1840.1 1037.1,1840.4 1038.6,1840.7 1040.1,1841 1041.5,1841.3 1043,1841.6 1044.5,1841.9 1045.9,1842.2 1047.4,1842.6 1048.9,1842.9 1050.3,1843.3 1051.8,1843.7 1053.2,1844.1 1054.7,1844.4 1056.1,1844.8 1057.6,1845.3 1059,1845.7 1060.4,1846.1 1061.9,1846.6 1063.3,1847 1064.7,1847.5 1066.1,1847.9 1067.6,1848.4 1069,1848.9 1070.4,1849.4 1071.8,1849.9 1073.2,1850.4 1074.6,1850.9 1076,1851.5 1077.4,1852 1078.8,1852.6 1080.2,1853.1 1081.6,1853.7 1083,1854.3 1084.4,1854.9 1085.7,1855.5 1087.1,1856.1 1088.5,1856.7 1089.8,1857.4 1091.2,1858 1092.5,1858.7 1093.8,1859.4 1095.1,1860.1 1096.5,1860.9 1097.8,1861.6 1099,1862.4 1100.3,1863.2 1101.6,1864 1102.9,1864.8 1104.1,1865.6 1105.4,1866.4 1106.6,1867.3 1107.8,1868.1 1109,1869 1110.3,1869.9 1111.5,1870.8 1112.7,1871.7 1113.8,1872.6 1115,1873.5 1116.2,1874.5 1117.4,1875.4 1118.5,1876.4 1119.7,1877.3 1120.8,1878.3 1121.9,1879.3 1123.1,1880.3 1124.2,1881.3 1125.3,1882.3 1126.4,1883.3 1127.5,1884.3 1128.6,1885.3 1129.7,1886.4 1130.8,1887.4 1131.9,1888.4 1132.9,1889.5 1134,1890.6 1135.1,1891.6 1136.1,1892.7 1137.1,1893.8 1138.2,1894.9 1139.2,1896 1140.2,1897.1 1141.2,1898.2 1142.2,1899.3 1143.1,1900.5 1144.1,1901.6 1145.1,1902.8 1146,1903.9 1147,1905.1 1147.9,1906.3 1148.8,1907.5 1149.7,1908.7 1150.6,1909.8 1151.5,1911 1152.4,1912.3 1153.3,1913.5 1154.2,1914.7 1155,1915.9 1155.9,1917.2 1156.7,1918.4 1157.6,1919.6 1158.4,1920.9 1159.2,1922.1 1160,1923.4 1160.9,1924.7 1161.7,1925.9 1162.4,1927.2 1163.2,1928.5 1164,1929.8 1164.8,1931 1165.6,1932.3 1166.3,1933.6 1167.1,1934.9 1167.8,1936.2 1168.5,1937.5 1169.3,1938.8 1170,1940.2 1170.7,1941.5 1171.4,1942.8 1172.1,1944.1 1172.9,1945.4 1173.5,1946.8 1174.2,1948.1 1174.9,1949.4 1175.6,1950.8 1176.3,1952.1 1176.9,1953.5 1177.6,1954.8 1178.3,1956.1 1178.9,1957.5 1179.6,1958.9 1180.2,1960.2 1180.8,1961.6 1181.5,1962.9 1182.1,1964.3 1182.7,1965.7 1183.3,1967 1184,1968.4 1184.6,1969.8 1185.2,1971.1 1185.8,1972.5 1186.4,1973.9 1187,1975.3 1187.5,1976.6 1188.1,1978 1188.6,1979.4 1189.1,1980.9 1189.6,1982.3 1190.1,1983.7 1190.6,1985.1 1191,1986.5 1191.5,1988 1191.9,1989.4 1192.3,1990.8 1192.8,1992.3 1193.2,1993.7 1193.6,1995.2 1194,1996.6 1194.4,1998.1 1194.8,1999.5 1195.2,2000.9 1195.6,2002.4 1196,2003.8 1196.4,2005.3 1196.8,2006.7 1197.2,2008.2 1197.5,2009.6 1197.9,2011.1 1198.3,2012.5 1198.7,2014 1199,2015.5 1199.4,2016.9 1199.8,2018.4 1200.2,2019.8 1200.5,2021.3 1200.9,2022.7 1201.3,2024.2 1201.6,2025.6 1202,2027.1 1202.4,2028.5 1202.8,2030 1203.1,2031.4 1203.5,2032.9 1203.9,2034.3 1204.3,2035.8 1204.6,2037.2 1205,2038.7 1205.4,2040.2 1205.7,2041.6 1206.1,2043.1 1206.4,2044.5 1206.8,2046 1207.1,2047.4 1207.5,2048.9 1207.8,2050.4 1208.2,2051.8 1208.5,2053.3 1208.9,2054.7 1209.2,2056.2 1209.6,2057.7 1209.9,2059.1 1210.2,2060.6 1210.6,2062 1210.9,2063.5 1211.2,2065 1211.6,2066.4 1211.9,2067.9 1212.2,2069.4 1212.6,2070.8 1212.9,2072.3 1213.2,2073.8 1213.5,2075.2 1213.9,2076.7 1214.2,2078.1 1214.5,2079.6 1214.8,2081.1 1215.1,2082.5 1215.5,2084 1215.8,2085.5 1216.1,2086.9 1216.4,2088.4 1216.7,2089.9 1217.1,2091.3 1217.4,2092.8 1217.7,2094.3 1218,2095.7 1218.3,2097.2 1218.6,2098.7 1218.9,2100.1 1219.2,2101.6 1219.5,2103.1 1219.8,2104.5 1220.1,2106 1220.4,2107.5 1220.7,2109 1221,2110.4 1221.3,2111.9 1221.6,2113.4 1221.9,2114.8 1222.2,2116.3 1222.5,2117.8 1222.8,2119.3 1223.1,2120.7 1223.4,2122.2 1223.7,2123.7 1223.9,2125.1 1224.2,2126.6 1224.5,2128.1 1224.8,2129.6 1225.1,2131 1225.4,2132.5 1225.7,2134 1226,2135.4 1226.3,2136.9 1226.6,2138.4 1226.8,2139.9 1227.1,2141.3 1227.4,2142.8 1227.7,2144.3 1228,2145.7 1228.3,2147.2 1228.6,2148.7 1228.9,2150.2 1229.2,2151.6 1229.5,2153.1 1229.8,2154.6 1230.1,2156 1230.4,2157.5 1230.7,2159 1231,2160.4 1231.3,2161.9 1231.6,2163.4 1231.9,2164.9 1232.2,2166.3 1232.5,2167.8 1232.8,2169.3 1233.1,2170.7 1233.4,2172.2 1233.7,2173.7 1234,2175.1 1234.3,2176.6 1234.6,2178.1 1234.9,2179.5 1235.2,2181 1235.5,2182.5 1235.8,2184 1236,2185.4 1236.3,2186.9 1236.6,2188.4 1236.9,2189.9 1237.2,2191.3 1237.4,2192.8 1237.7,2194.3 1238,2195.8 1238.2,2197.2 1238.5,2198.7 1238.7,2200.2 1239,2201.7 1239.3,2203.1 1239.5,2204.6 1239.7,2206.1 1240,2207.6 1240.2,2209.1 1240.5,2210.5 1240.7,2212 1241,2213.5 1241.2,2215 1241.4,2216.5 1241.7,2218 1241.9,2219.4 1242.1,2220.9 1242.4,2222.4 1242.6,2223.9 1242.8,2225.4 1243,2226.8 1243.3,2228.3 1243.5,2229.8 1243.7,2231.3 1243.9,2232.8 1244.1,2234.3 1244.4,2235.8 1244.6,2237.2 1244.8,2238.7 1245,2240.2 1245.2,2241.7 1245.4,2243.2 1245.7,2244.7 1245.9,2246.1 1246.1,2247.6 1246.3,2249.1 1246.5,2250.6 1246.7,2252.1 1246.9,2253.6 1247.1,2255.1 1247.3,2256.5 1247.5,2258 1247.7,2259.5 1248,2261 1248.2,2262.5 1248.4,2264 1248.6,2265.5 1248.8,2266.9 1249,2268.4 1249.2,2269.9 1249.4,2271.4 1249.6,2272.9 1249.8,2274.4 1250,2275.9 1250.2,2277.3 1250.4,2278.8 1250.6,2280.3 1250.8,2281.8 1251,2283.3 1251.2,2284.8 1251.4,2286.3 1251.6,2287.7 1251.8,2289.2 1252,2290.7 1252.2,2292.2 1252.4,2293.7 1252.6,2295.2 1252.8,2296.7 1253,2298.2 1253.2,2299.6 1253.4,2301.1 1253.6,2302.6 1253.8,2304.1 1254,2305.6 1254.2,2307.1 1254.4,2308.6 1254.6,2310.1 1254.8,2311.5 1255,2313 1255.2,2314.5 1255.4,2316 1255.6,2317.5 1255.7,2319 1255.9,2320.5 1256.1,2321.9 1256.3,2323.4 1256.5,2324.9 1256.7,2326.4 1256.9,2327.9 1257.1,2329.4 1257.3,2330.9 1257.5,2332.4 1257.7,2333.9 1257.9,2335.3 1258,2336.8 1258.2,2338.3 1258.4,2339.8 1258.6,2341.3 1258.8,2342.8 1259,2344.3 1259.1,2345.8 1259.3,2347.2 1259.5,2348.7 1259.7,2350.2 1259.9,2351.7 1260.1,2353.2 1260.2,2354.7 1260.4,2356.2 1260.6,2357.7 1260.8,2359.2 1261,2360.6 1261.1,2362.1 1261.3,2363.6 1261.5,2365.1 1261.7,2366.6 1261.9,2368.1 1262,2369.6 1262.2,2371.1 1262.4,2372.6 1262.6,2374.1 1262.7,2375.5 1262.9,2377 1263.1,2378.5 1263.3,2380 1263.5,2381.5 1263.6,2383 1263.8,2384.5 1264,2386 1264.2,2387.5 1264.3,2388.9 1264.5,2390.4 1264.7,2391.9 1264.9,2393.4 1265.1,2394.9 1265.2,2396.4 1265.4,2397.9 1265.6,2399.4 1265.8,2400.9 1266,2402.4 1266.1,2403.8 1266.3,2405.3 1266.5,2406.8 1266.7,2408.3 1266.9,2409.8 1267,2411.3 1267.2,2412.8 1267.4,2414.3 1267.6,2415.8 1267.8,2417.2 1268,2418.7 1268.1,2420.2 1268.3,2421.7 1268.5,2423.2 1268.7,2424.7 1268.9,2426.2 1269.1,2427.7 1269.2,2429.1 1269.4,2430.6 1269.6,2432.1 1269.8,2433.6 1270,2435.1 1270.2,2436.6 1270.4,2438.1 1270.6,2439.6 1270.8,2441.1 1271,2442.5 1271.1,2444 1271.3,2445.5 1271.5,2447 1271.7,2448.5 1271.9,2450 1272.1,2451.5 1272.3,2453 1272.5,2454.4 1272.7,2455.9 1272.9,2457.4 1273,2458.9 1273.2,2460.4 1273.4,2461.9 1273.6,2463.4 1273.8,2464.9 1274,2466.3 1274.2,2467.8 1274.4,2469.3 1274.6,2470.8 1274.8,2472.3 1275,2473.8 1275.2,2475.3 1275.4,2476.8 1275.6,2478.2 1275.7,2479.7 1275.9,2481.2 1276.1,2482.7 1276.3,2484.2 1276.5,2485.7 1276.7,2487.2 1276.9,2488.7 1277.1,2490.1 1277.3,2491.6 1277.5,2493.1 1277.7,2494.6 1277.9,2496.1 1278.1,2497.6 1278.3,2499.1 1278.5,2500.6 1278.7,2502 1278.9,2503.5 1279.1,2505 1279.3,2506.5 1279.5,2508 1279.7,2509.5 1279.8,2511 1280,2512.5 1280.2,2513.9 1280.4,2515.4 1280.6,2516.9 1280.8,2518.4 1281,2519.9 1281.2,2521.4 1281.4,2522.9 1281.6,2524.3 1281.8,2525.8 1282,2527.3 1282.2,2528.8 1282.4,2530.3 1282.6,2531.8 1282.8,2533.3 1283,2534.8 1283.2,2536.2 1283.4,2537.7 1283.6,2539.2 1283.8,2540.7 1284,2542.2 1284.2,2543.7 1284.4,2545.2 1284.6,2546.6 1284.8,2548.1 1285,2549.6 1285.3,2551.1 1285.5,2552.6 1285.7,2554.1 1285.9,2555.6 1286.1,2557 1286.3,2558.5 1286.5,2560 1286.7,2561.5 1286.9,2563 1287.1,2564.5 1287.3,2566 1287.5,2567.4 1287.7,2568.9 1287.9,2570.4 1288.1,2571.9 1288.3,2573.4 1288.6,2574.9 1288.8,2576.4 1289,2577.8 1289.2,2579.3 1289.4,2580.8 1289.6,2582.3 1289.8,2583.8 1290,2585.3 1290.2,2586.8 1290.4,2588.2 1290.7,2589.7 1290.9,2591.2 1291.1,2592.7 1291.3,2594.2 1291.5,2595.7 1291.7,2597.2 1291.9,2598.6 1292.1,2600.1 1292.3,2601.6 1292.6,2603.1 1292.8,2604.6 1293,2606.1 1293.2,2607.5 1293.4,2609 1293.6,2610.5 1293.8,2612 1294,2613.5 1294.2,2615 1294.4,2616.5 1294.6,2617.9 1294.8,2619.4 1295,2620.9 1295.2,2622.4 1295.4,2623.9 1295.6,2625.4 1295.8,2626.9 1296,2628.4 1296.2,2629.8 1296.4,2631.3 1296.6,2632.8 1296.8,2634.3 1297,2635.8 1297.2,2637.3 1297.5,2638.8 1297.7,2640.2 1297.9,2641.7 1298.1,2643.2 1298.3,2644.7 1298.5,2646.2 1298.7,2647.7 1298.9,2649.2 1299.1,2650.6 1299.3,2652.1 1299.6,2653.6 1299.8,2655.1 1300,2656.6 1300.2,2658.1 1300.5,2659.5 1300.7,2661 1301,2662.5 1301.2,2664 1301.5,2665.5 1301.7,2666.9 1302,2668.4 1302.3,2669.9 1302.5,2671.4 1302.8,2672.8 1303.1,2674.3 1303.4,2675.8 1303.6,2677.3 1303.9,2678.7 1304.2,2680.2 1304.5,2681.7 1304.8,2683.1 1305.1,2684.6 1305.4,2686.1 1305.7,2687.6 1306,2689 1306.3,2690.5 1306.6,2692 1306.9,2693.4 1307.3,2694.9 1307.6,2696.4 1307.9,2697.8 1308.3,2699.3 1308.6,2700.7 1308.9,2702.2 1309.3,2703.7 1309.7,2705.1 1310,2706.6 1310.4,2708 1310.8,2709.5 1311.2,2710.9 1311.6,2712.4 1312,2713.8 1312.4,2715.2 1312.9,2716.7 1313.3,2718.1 1313.8,2719.5 1314.2,2721 1314.7,2722.4 1315.2,2723.8 1315.6,2725.2 1316.1,2726.6 1316.7,2728.1 1317.2,2729.5 1317.7,2730.9 1318.3,2732.2 1318.9,2733.6 1319.5,2735 1320.1,2736.4 1320.8,2737.7 1321.4,2739.1 1322.1,2740.4 1322.8,2741.7 1323.5,2743.1 1324.2,2744.4 1325,2745.7 1325.7,2747 1326.5,2748.3 1327.3,2749.5 1328.1,2750.8 1328.9,2752.1 1329.7,2753.3 1330.6,2754.5 1331.4,2755.8 1332.3,2757 1333.2,2758.2 1334,2759.4 1334.9,2760.7 1335.8,2761.9 1336.7,2763.1 1337.5,2764.3 1338.4,2765.5 1339.3,2766.7 1340.3,2767.9 1341.2,2769 1342.3,2770.1 1343.3,2771.2 1344.5,2772.1 1345.8,2772.8 1347.2,2773.5 1348.5,2774.2 1349.9,2774.8 1351.3,2775.4 1352.7,2775.9 1354.1,2776.4 1355.5,2776.8 1357,2777.2 1358.5,2777.5 1359.9,2777.7 1361.4,2777.8 1362.9,2777.9 1364.4,2778 1365.9,2778.1 1367.4,2778.2 1368.9,2778.2 1370.4,2778.3 1371.9,2778.4 1373.4,2778.4 1374.9,2778.5 1376.4,2778.5 1377.9,2778.6 1379.4,2778.6 1380.9,2778.7 1382.4,2778.7 1383.9,2778.7 1385.4,2778.7 1386.9,2778.7 1388.4,2778.7 1389.9,2778.7 1391.4,2778.7 1392.9,2778.7 1394.4,2778.7 1395.9,2778.7 1397.4,2778.7 1398.9,2778.7 1400.4,2778.7 1401.9,2778.7 1403.4,2778.7 1404.9,2778.7 1406.4,2778.7 1407.9,2778.7 1409.4,2778.7 1410.9,2778.7 1412.4,2778.7 1413.9,2778.7 1415.4,2778.7 1416.9,2778.7 1418.4,2778.7 1419.9,2778.7 1421.4,2778.7 1422.9,2778.7 1424.4,2778.7 1425.9,2778.7 1427.4,2778.7 1428.9,2778.7 1430.4,2778.7 1431.9,2778.7 1433.4,2778.7 1434.9,2778.7 1436.4,2778.7 1437.9,2778.7 1439.4,2778.7 1440.9,2778.7 1442.4,2778.7 1443.9,2778.7 1445.4,2778.7 1446.9,2778.7 1448.4,2778.7 1449.9,2778.7 1451.4,2778.7 1452.9,2778.7 1454.4,2778.7 1455.9,2778.7 1457.4,2778.7 1458.9,2778.7 1460.4,2778.7 1461.9,2778.7 1463.4,2778.7 1464.9,2778.7 1466.4,2778.7 1467.9,2778.7 1469.4,2778.7 1470.9,2778.7 1472.4,2778.7 1473.9,2778.7 1475.4,2778.7 1476.9,2778.7 1478.4,2778.7 1479.9,2778.7 1481.4,2778.7 1482.9,2778.7 1484.4,2778.7 1485.9,2778.7 1487.4,2778.7 1488.9,2778.7 1490.4,2778.7 1491.9,2778.7 1493.4,2778.7 1494.9,2778.7 1496.4,2778.7 1497.9,2778.7 1499.4,2778.7 1500.9,2778.7 1502.4,2778.7 1503.9,2778.7 1505.4,2778.7 1506.9,2778.7 1508.4,2778.7 1509.9,2778.7 1511.4,2778.7 1512.9,2778.7 1514.4,2778.7 1515.9,2778.7 1517.4,2778.7 1518.9,2778.7 1520.4,2778.7 1521.9,2778.7 1523.4,2778.7 1524.9,2778.7 1526.4,2778.7 1527.9,2778.7 1529.4,2778.7 1530.9,2778.7 1532.4,2778.7 1533.9,2778.7 1535.4,2778.7 1536.9,2778.7 1538.4,2778.7 1539.9,2778.7 1541.4,2778.7 1542.9,2778.7 1544.4,2778.7 1545.9,2778.7 1547.4,2778.7 1548.9,2778.7 1550.4,2778.7 1551.9,2778.7 1553.4,2778.7 1554.9,2778.7 1556.4,2778.7 1557.9,2778.7 1559.4,2778.7 1560.9,2778.7 1562.4,2778.7 1563.9,2778.7 1565.4,2778.7 1566.9,2778.7 1568.4,2778.7 1569.9,2778.7 1571.4,2778.7 1572.9,2778.7 1574.4,2778.7 1575.9,2778.7 1577.4,2778.7 1578.9,2778.7 1580.4,2778.7 1581.9,2778.7 1583.4,2778.7 1584.9,2778.7 1586.4,2778.7 1587.9,2778.7 1589.4,2778.7 1590.9,2778.7 1592.4,2778.7 1593.9,2778.7 1595.4,2778.7 1596.9,2778.7 1598.4,2778.7 1599.9,2778.7 1601.4,2778.7 1602.9,2778.7 1604.4,2778.7 1605.9,2778.7 1607.4,2778.7 1608.9,2778.7 1610.4,2778.7 1611.9,2778.7 1613.4,2778.7 1614.9,2778.7 1616.4,2778.7 1617.9,2778.7 1619.4,2778.7 1620.9,2778.7 1622.4,2778.7 1623.9,2778.7 1625.4,2778.7 1626.9,2778.7 1628.4,2778.7 1629.9,2778.7 1631.4,2778.7 1632.9,2778.7 1634.4,2778.7 1635.9,2778.7 1637.4,2778.7 1638.9,2778.7 1640.4,2778.7 1641.9,2778.7 1643.4,2778.7 1644.9,2778.7 1646.4,2778.7 1647.9,2778.7 1649.4,2778.7 1650.9,2778.7 1652.4,2778.7 1653.9,2778.7 1655.4,2778.7 1656.9,2778.7 1658.4,2778.7 1659.9,2778.7 1661.4,2778.7 1662.9,2778.7 1664.4,2778.7 1665.9,2778.7 1667.4,2778.7 1668.9,2778.7 1670.4,2778.7 1671.9,2778.7 1673.4,2778.7 1674.9,2778.7 1676.4,2778.7 1677.9,2778.7 1679.4,2778.7 1680.9,2778.7 1682.4,2778.7 1683.9,2778.7 1685.4,2778.7 1686.9,2778.7 1688.4,2778.7" fill="none" stroke="#ff8000" stroke-width="3.5" stroke-linejoin="round" marker-start="url(#mb6)" marker-mid="url(#mb6)" marker-end="url(#mb6)"/>
</g>
<g shape-rendering="crispEdges">
<rect x="299.0" y="1727.0" width="1405.0" height="1146.6999999999998" fill="none" stroke="#000" stroke-width="3.8"/>
<line x1="317.57" y1="2871.8" x2="317.57" y2="2865.8" stroke="#000" stroke-width="3.2"/>
<line x1="317.57" y1="1728.9" x2="317.57" y2="1734.9" stroke="#000" stroke-width="3.2"/>
<line x1="332.48" y1="2871.8" x2="332.48" y2="2865.8" stroke="#000" stroke-width="3.2"/>
<line x1="332.48" y1="1728.9" x2="332.48" y2="1734.9" stroke="#000" stroke-width="3.2"/>
<line x1="345.41" y1="2871.8" x2="345.41" y2="2865.8" stroke="#000" stroke-width="3.2"/>
<line x1="345.41" y1="1728.9" x2="345.41" y2="1734.9" stroke="#000" stroke-width="3.2"/>
<line x1="356.8" y1="2871.8" x2="356.8" y2="2865.8" stroke="#000" stroke-width="3.2"/>
<line x1="356.8" y1="1728.9" x2="356.8" y2="1734.9" stroke="#000" stroke-width="3.2"/>
<line x1="367" y1="2871.8" x2="367" y2="2859.8" stroke="#000" stroke-width="3.2"/>
<line x1="367" y1="1728.9" x2="367" y2="1740.9" stroke="#000" stroke-width="3.2"/>
<line x1="434.08" y1="2871.8" x2="434.08" y2="2865.8" stroke="#000" stroke-width="3.2"/>
<line x1="434.08" y1="1728.9" x2="434.08" y2="1734.9" stroke="#000" stroke-width="3.2"/>
<line x1="473.32" y1="2871.8" x2="473.32" y2="2865.8" stroke="#000" stroke-width="3.2"/>
<line x1="473.32" y1="1728.9" x2="473.32" y2="1734.9" stroke="#000" stroke-width="3.2"/>
<line x1="501.16" y1="2871.8" x2="501.16" y2="2865.8" stroke="#000" stroke-width="3.2"/>
<line x1="501.16" y1="1728.9" x2="501.16" y2="1734.9" stroke="#000" stroke-width="3.2"/>
<line x1="522.75" y1="2871.8" x2="522.75" y2="2865.8" stroke="#000" stroke-width="3.2"/>
<line x1="522.75" y1="1728.9" x2="522.75" y2="1734.9" stroke="#000" stroke-width="3.2"/>
<line x1="540.4" y1="2871.8" x2="540.4" y2="2865.8" stroke="#000" stroke-width="3.2"/>
<line x1="540.4" y1="1728.9" x2="540.4" y2="1734.9" stroke="#000" stroke-width="3.2"/>
<line x1="555.31" y1="2871.8" x2="555.31" y2="2865.8" stroke="#000" stroke-width="3.2"/>
<line x1="555.31" y1="1728.9" x2="555.31" y2="1734.9" stroke="#000" stroke-width="3.2"/>
<line x1="568.24" y1="2871.8" x2="568.24" y2="2865.8" stroke="#000" stroke-width="3.2"/>
<line x1="568.24" y1="1728.9" x2="568.24" y2="1734.9" stroke="#000" stroke-width="3.2"/>
<line x1="579.63" y1="2871.8" x2="579.63" y2="2865.8" stroke="#000" stroke-width="3.2"/>
<line x1="579.63" y1="1728.9" x2="579.63" y2="1734.9" stroke="#000" stroke-width="3.2"/>
<line x1="589.83" y1="2871.8" x2="589.83" y2="2859.8" stroke="#000" stroke-width="3.2"/>
<line x1="589.83" y1="1728.9" x2="589.83" y2="1740.9" stroke="#000" stroke-width="3.2"/>
<line x1="656.91" y1="2871.8" x2="656.91" y2="2865.8" stroke="#000" stroke-width="3.2"/>
<line x1="656.91" y1="1728.9" x2="656.91" y2="1734.9" stroke="#000" stroke-width="3.2"/>
<line x1="696.15" y1="2871.8" x2="696.15" y2="2865.8" stroke="#000" stroke-width="3.2"/>
<line x1="696.15" y1="1728.9" x2="696.15" y2="1734.9" stroke="#000" stroke-width="3.2"/>
<line x1="723.99" y1="2871.8" x2="723.99" y2="2865.8" stroke="#000" stroke-width="3.2"/>
<line x1="723.99" y1="1728.9" x2="723.99" y2="1734.9" stroke="#000" stroke-width="3.2"/>
<line x1="745.58" y1="2871.8" x2="745.58" y2="2865.8" stroke="#000" stroke-width="3.2"/>
<line x1="745.58" y1="1728.9" x2="745.58" y2="1734.9" stroke="#000" stroke-width="3.2"/>
<line x1="763.23" y1="2871.8" x2="763.23" y2="2865.8" stroke="#000" stroke-width="3.2"/>
<line x1="763.23" y1="1728.9" x2="763.23" y2="1734.9" stroke="#000" stroke-width="3.2"/>
<line x1="778.14" y1="2871.8" x2="778.14" y2="2865.8" stroke="#000" stroke-width="3.2"/>
<line x1="778.14" y1="1728.9" x2="778.14" y2="1734.9" stroke="#000" stroke-width="3.2"/>
<line x1="791.07" y1="2871.8" x2="791.07" y2="2865.8" stroke="#000" stroke-width="3.2"/>
<line x1="791.07" y1="1728.9" x2="791.07" y2="1734.9" stroke="#000" stroke-width="3.2"/>
<line x1="802.46" y1="2871.8" x2="802.46" y2="2865.8" stroke="#000" stroke-width="3.2"/>
<line x1="802.46" y1="1728.9" x2="802.46" y2="1734.9" stroke="#000" stroke-width="3.2"/>
<line x1="812.66" y1="2871.8" x2="812.66" y2="2859.8" stroke="#000" stroke-width="3.2"/>
<line x1="812.66" y1="1728.9" x2="812.66" y2="1740.9" stroke="#000" stroke-width="3.2"/>
<line x1="879.74" y1="2871.8" x2="879.74" y2="2865.8" stroke="#000" stroke-width="3.2"/>
<line x1="879.74" y1="1728.9" x2="879.74" y2="1734.9" stroke="#000" stroke-width="3.2"/>
<line x1="918.98" y1="2871.8" x2="918.98" y2="2865.8" stroke="#000" stroke-width="3.2"/>
<line x1="918.98" y1="1728.9" x2="918.98" y2="1734.9" stroke="#000" stroke-width="3.2"/>
<line x1="946.82" y1="2871.8" x2="946.82" y2="2865.8" stroke="#000" stroke-width="3.2"/>
<line x1="946.82" y1="1728.9" x2="946.82" y2="1734.9" stroke="#000" stroke-width="3.2"/>
<line x1="968.41" y1="2871.8" x2="968.41" y2="2865.8" stroke="#000" stroke-width="3.2"/>
<line x1="968.41" y1="1728.9" x2="968.41" y2="1734.9" stroke="#000" stroke-width="3.2"/>
<line x1="986.06" y1="2871.8" x2="986.06" y2="2865.8" stroke="#000" stroke-width="3.2"/>
<line x1="986.06" y1="1728.9" x2="986.06" y2="1734.9" stroke="#000" stroke-width="3.2"/>
<line x1="1000.97" y1="2871.8" x2="1000.97" y2="2865.8" stroke="#000" stroke-width="3.2"/>
<line x1="1000.97" y1="1728.9" x2="1000.97" y2="1734.9" stroke="#000" stroke-width="3.2"/>
<line x1="1013.9" y1="2871.8" x2="1013.9" y2="2865.8" stroke="#000" stroke-width="3.2"/>
<line x1="1013.9" y1="1728.9" x2="1013.9" y2="1734.9" stroke="#000" stroke-width="3.2"/>
<line x1="1025.29" y1="2871.8" x2="1025.29" y2="2865.8" stroke="#000" stroke-width="3.2"/>
<line x1="1025.29" y1="1728.9" x2="1025.29" y2="1734.9" stroke="#000" stroke-width="3.2"/>
<line x1="1035.49" y1="2871.8" x2="1035.49" y2="2859.8" stroke="#000" stroke-width="3.2"/>
<line x1="1035.49" y1="1728.9" x2="1035.49" y2="1740.9" stroke="#000" stroke-width="3.2"/>
<line x1="1102.57" y1="2871.8" x2="1102.57" y2="2865.8" stroke="#000" stroke-width="3.2"/>
<line x1="1102.57" y1="1728.9" x2="1102.57" y2="1734.9" stroke="#000" stroke-width="3.2"/>
<line x1="1141.81" y1="2871.8" x2="1141.81" y2="2865.8" stroke="#000" stroke-width="3.2"/>
<line x1="1141.81" y1="1728.9" x2="1141.81" y2="1734.9" stroke="#000" stroke-width="3.2"/>
<line x1="1169.65" y1="2871.8" x2="1169.65" y2="2865.8" stroke="#000" stroke-width="3.2"/>
<line x1="1169.65" y1="1728.9" x2="1169.65" y2="1734.9" stroke="#000" stroke-width="3.2"/>
<line x1="1191.24" y1="2871.8" x2="1191.24" y2="2865.8" stroke="#000" stroke-width="3.2"/>
<line x1="1191.24" y1="1728.9" x2="1191.24" y2="1734.9" stroke="#000" stroke-width="3.2"/>
<line x1="1208.89" y1="2871.8" x2="1208.89" y2="2865.8" stroke="#000" stroke-width="3.2"/>
<line x1="1208.89" y1="1728.9" x2="1208.89" y2="1734.9" stroke="#000" stroke-width="3.2"/>
<line x1="1223.8" y1="2871.8" x2="1223.8" y2="2865.8" stroke="#000" stroke-width="3.2"/>
<line x1="1223.8" y1="1728.9" x2="1223.8" y2="1734.9" stroke="#000" stroke-width="3.2"/>
<line x1="1236.73" y1="2871.8" x2="1236.73" y2="2865.8" stroke="#000" stroke-width="3.2"/>
<line x1="1236.73" y1="1728.9" x2="1236.73" y2="1734.9" stroke="#000" stroke-width="3.2"/>
<line x1="1248.12" y1="2871.8" x2="1248.12" y2="2865.8" stroke="#000" stroke-width="3.2"/>
<line x1="1248.12" y1="1728.9" x2="1248.12" y2="1734.9" stroke="#000" stroke-width="3.2"/>
<line x1="1258.32" y1="2871.8" x2="1258.32" y2="2859.8" stroke="#000" stroke-width="3.2"/>
<line x1="1258.32" y1="1728.9" x2="1258.32" y2="1740.9" stroke="#000" stroke-width="3.2"/>
<line x1="1325.4" y1="2871.8" x2="1325.4" y2="2865.8" stroke="#000" stroke-width="3.2"/>
<line x1="1325.4" y1="1728.9" x2="1325.4" y2="1734.9" stroke="#000" stroke-width="3.2"/>
<line x1="1364.64" y1="2871.8" x2="1364.64" y2="2865.8" stroke="#000" stroke-width="3.2"/>
<line x1="1364.64" y1="1728.9" x2="1364.64" y2="1734.9" stroke="#000" stroke-width="3.2"/>
<line x1="1392.48" y1="2871.8" x2="1392.48" y2="2865.8" stroke="#000" stroke-width="3.2"/>
<line x1="1392.48" y1="1728.9" x2="1392.48" y2="1734.9" stroke="#000" stroke-width="3.2"/>
<line x1="1414.07" y1="2871.8" x2="1414.07" y2="2865.8" stroke="#000" stroke-width="3.2"/>
<line x1="1414.07" y1="1728.9" x2="1414.07" y2="1734.9" stroke="#000" stroke-width="3.2"/>
<line x1="1431.72" y1="2871.8" x2="1431.72" y2="2865.8" stroke="#000" stroke-width="3.2"/>
<line x1="1431.72" y1="1728.9" x2="1431.72" y2="1734.9" stroke="#000" stroke-width="3.2"/>
<line x1="1446.63" y1="2871.8" x2="1446.63" y2="2865.8" stroke="#000" stroke-width="3.2"/>
<line x1="1446.63" y1="1728.9" x2="1446.63" y2="1734.9" stroke="#000" stroke-width="3.2"/>
<line x1="1459.56" y1="2871.8" x2="1459.56" y2="2865.8" stroke="#000" stroke-width="3.2"/>
<line x1="1459.56" y1="1728.9" x2="1459.56" y2="1734.9" stroke="#000" stroke-width="3.2"/>
<line x1="1470.95" y1="2871.8" x2="1470.95" y2="2865.8" stroke="#000" stroke-width="3.2"/>
<line x1="1470.95" y1="1728.9" x2="1470.95" y2="1734.9" stroke="#000" stroke-width="3.2"/>
<line x1="1481.15" y1="2871.8" x2="1481.15" y2="2859.8" stroke="#000" stroke-width="3.2"/>
<line x1="1481.15" y1="1728.9" x2="1481.15" y2="1740.9" stroke="#000" stroke-width="3.2"/>
<line x1="1548.23" y1="2871.8" x2="1548.23" y2="2865.8" stroke="#000" stroke-width="3.2"/>
<line x1="1548.23" y1="1728.9" x2="1548.23" y2="1734.9" stroke="#000" stroke-width="3.2"/>
<line x1="1587.47" y1="2871.8" x2="1587.47" y2="2865.8" stroke="#000" stroke-width="3.2"/>
<line x1="1587.47" y1="1728.9" x2="1587.47" y2="1734.9" stroke="#000" stroke-width="3.2"/>
<line x1="1615.31" y1="2871.8" x2="1615.31" y2="2865.8" stroke="#000" stroke-width="3.2"/>
<line x1="1615.31" y1="1728.9" x2="1615.31" y2="1734.9" stroke="#000" stroke-width="3.2"/>
<line x1="1636.9" y1="2871.8" x2="1636.9" y2="2865.8" stroke="#000" stroke-width="3.2"/>
<line x1="1636.9" y1="1728.9" x2="1636.9" y2="1734.9" stroke="#000" stroke-width="3.2"/>
<line x1="1654.55" y1="2871.8" x2="1654.55" y2="2865.8" stroke="#000" stroke-width="3.2"/>
<line x1="1654.55" y1="1728.9" x2="1654.55" y2="1734.9" stroke="#000" stroke-width="3.2"/>
<line x1="1669.46" y1="2871.8" x2="1669.46" y2="2865.8" stroke="#000" stroke-width="3.2"/>
<line x1="1669.46" y1="1728.9" x2="1669.46" y2="1734.9" stroke="#000" stroke-width="3.2"/>
<line x1="1682.39" y1="2871.8" x2="1682.39" y2="2865.8" stroke="#000" stroke-width="3.2"/>
<line x1="1682.39" y1="1728.9" x2="1682.39" y2="1734.9" stroke="#000" stroke-width="3.2"/>
<line x1="1693.78" y1="2871.8" x2="1693.78" y2="2865.8" stroke="#000" stroke-width="3.2"/>
<line x1="1693.78" y1="1728.9" x2="1693.78" y2="1734.9" stroke="#000" stroke-width="3.2"/>
<line x1="300.9" y1="1822" x2="311.9" y2="1822" stroke="#000" stroke-width="3.2"/>
<line x1="1702.1" y1="1822" x2="1691.1" y2="1822" stroke="#000" stroke-width="3.2"/>
<line x1="300.9" y1="1917.67" x2="305.9" y2="1917.67" stroke="#000" stroke-width="3.2"/>
<line x1="1702.1" y1="1917.67" x2="1697.1" y2="1917.67" stroke="#000" stroke-width="3.2"/>
<line x1="300.9" y1="2013.34" x2="311.9" y2="2013.34" stroke="#000" stroke-width="3.2"/>
<line x1="1702.1" y1="2013.34" x2="1691.1" y2="2013.34" stroke="#000" stroke-width="3.2"/>
<line x1="300.9" y1="2109.01" x2="305.9" y2="2109.01" stroke="#000" stroke-width="3.2"/>
<line x1="1702.1" y1="2109.01" x2="1697.1" y2="2109.01" stroke="#000" stroke-width="3.2"/>
<line x1="300.9" y1="2204.68" x2="311.9" y2="2204.68" stroke="#000" stroke-width="3.2"/>
<line x1="1702.1" y1="2204.68" x2="1691.1" y2="2204.68" stroke="#000" stroke-width="3.2"/>
<line x1="300.9" y1="2300.35" x2="305.9" y2="2300.35" stroke="#000" stroke-width="3.2"/>
<line x1="1702.1" y1="2300.35" x2="1697.1" y2="2300.35" stroke="#000" stroke-width="3.2"/>
<line x1="300.9" y1="2396.02" x2="311.9" y2="2396.02" stroke="#000" stroke-width="3.2"/>
<line x1="1702.1" y1="2396.02" x2="1691.1" y2="2396.02" stroke="#000" stroke-width="3.2"/>
<line x1="300.9" y1="2491.69" x2="305.9" y2="2491.69" stroke="#000" stroke-width="3.2"/>
<line x1="1702.1" y1="2491.69" x2="1697.1" y2="2491.69" stroke="#000" stroke-width="3.2"/>
<line x1="300.9" y1="2587.36" x2="311.9" y2="2587.36" stroke="#000" stroke-width="3.2"/>
<line x1="1702.1" y1="2587.36" x2="1691.1" y2="2587.36" stroke="#000" stroke-width="3.2"/>
<line x1="300.9" y1="2683.03" x2="305.9" y2="2683.03" stroke="#000" stroke-width="3.2"/>
<line x1="1702.1" y1="2683.03" x2="1697.1" y2="2683.03" stroke="#000" stroke-width="3.2"/>
<line x1="300.9" y1="2778.7" x2="311.9" y2="2778.7" stroke="#000" stroke-width="3.2"/>
<line x1="1702.1" y1="2778.7" x2="1691.1" y2="2778.7" stroke="#000" stroke-width="3.2"/>
</g>
<text transform="matrix(1.0000 0 0 1 205.64 1838.00)" font-family="Liberation Sans, Arial, sans-serif" font-size="57.2" fill="#000">0.0</text>
<text transform="matrix(1.0000 0 0 1 187.33 2029.34)" font-family="Liberation Sans, Arial, sans-serif" font-size="57.2" fill="#000">-0.2</text>
<text transform="matrix(1.0000 0 0 1 186.05 2220.68)" font-family="Liberation Sans, Arial, sans-serif" font-size="57.2" fill="#000">-0.4</text>
<text transform="matrix(1.0000 0 0 1 186.90 2412.02)" font-family="Liberation Sans, Arial, sans-serif" font-size="57.2" fill="#000">-0.6</text>
<text transform="matrix(1.0000 0 0 1 186.90 2603.36)" font-family="Liberation Sans, Arial, sans-serif" font-size="57.2" fill="#000">-0.8</text>
<text transform="matrix(1.0000 0 0 1 186.62 2794.70)" font-family="Liberation Sans, Arial, sans-serif" font-size="57.2" fill="#000">-1.0</text>
<text transform="matrix(0.9625 0 0 1 325.74 2944.10)" font-family="Liberation Sans, Arial, sans-serif" font-size="57.6" fill="#000">10</text>
<text transform="matrix(1.0000 0 0 1 390.15 2913.30)" font-family="Liberation Sans, Arial, sans-serif" font-size="38" fill="#000">1</text>
<text transform="matrix(0.9625 0 0 1 548.57 2944.10)" font-family="Liberation Sans, Arial, sans-serif" font-size="57.6" fill="#000">10</text>
<text transform="matrix(1.0000 0 0 1 612.98 2913.30)" font-family="Liberation Sans, Arial, sans-serif" font-size="38" fill="#000">2</text>
<text transform="matrix(0.9625 0 0 1 771.40 2944.10)" font-family="Liberation Sans, Arial, sans-serif" font-size="57.6" fill="#000">10</text>
<text transform="matrix(1.0000 0 0 1 835.81 2913.30)" font-family="Liberation Sans, Arial, sans-serif" font-size="38" fill="#000">3</text>
<text transform="matrix(0.9625 0 0 1 994.23 2944.10)" font-family="Liberation Sans, Arial, sans-serif" font-size="57.6" fill="#000">10</text>
<text transform="matrix(1.0000 0 0 1 1058.64 2913.30)" font-family="Liberation Sans, Arial, sans-serif" font-size="38" fill="#000">4</text>
<text transform="matrix(0.9625 0 0 1 1217.06 2944.10)" font-family="Liberation Sans, Arial, sans-serif" font-size="57.6" fill="#000">10</text>
<text transform="matrix(1.0000 0 0 1 1281.47 2913.30)" font-family="Liberation Sans, Arial, sans-serif" font-size="38" fill="#000">5</text>
<text transform="matrix(0.9625 0 0 1 1439.89 2944.10)" font-family="Liberation Sans, Arial, sans-serif" font-size="57.6" fill="#000">10</text>
<text transform="matrix(1.0000 0 0 1 1504.30 2913.30)" font-family="Liberation Sans, Arial, sans-serif" font-size="38" fill="#000">6</text>
<text transform="matrix(0.9625 0 0 1 1662.72 2944.10)" font-family="Liberation Sans, Arial, sans-serif" font-size="57.6" fill="#000">10</text>
<text transform="matrix(1.0000 0 0 1 1727.13 2913.30)" font-family="Liberation Sans, Arial, sans-serif" font-size="38" fill="#000">7</text>
<text transform="matrix(0.9925 0 0 1 882.97 3014.70)" font-family="Liberation Sans, Arial, sans-serif" font-size="64" fill="#000">Time (sec)</text>
<text transform="matrix(0 -0.9792 1 0 104.00 2473.22)" font-family="Liberation Sans, Arial, sans-serif" font-size="58.5" fill="#000">Δ</text>
<text transform="matrix(0 -0.9703 1 0 104.00 2438.34)" font-family="Liberation Sans, Arial, sans-serif" font-size="65.4" fill="#000">R</text>
<text transform="matrix(0 -0.9562 1 0 129.00 2391.83)" font-family="Liberation Sans, Arial, sans-serif" font-size="38.5" fill="#000">T</text>
<text transform="matrix(0 -0.9918 1 0 104.00 2372.10)" font-family="Liberation Sans, Arial, sans-serif" font-size="65.4" fill="#000">/</text>
<text transform="matrix(0 -0.9764 1 0 104.00 2354.61)" font-family="Liberation Sans, Arial, sans-serif" font-size="58.5" fill="#000">Δ</text>
<text transform="matrix(0 -0.9884 1 0 104.00 2317.73)" font-family="Liberation Sans, Arial, sans-serif" font-size="65.4" fill="#000">R</text>
<text transform="matrix(0 -1.0202 1 0 129.00 2271.58)" font-family="Liberation Sans, Arial, sans-serif" font-size="38.5" fill="#000">T,max</text>
<text transform="matrix(0.9592 0 0 1 1375.98 2011.20)" font-family="Liberation Sans, Arial, sans-serif" font-size="56.8" fill="#000">Co</text>
<text transform="matrix(0.9206 0 0 1 1445.36 2031.90)" font-family="Liberation Sans, Arial, sans-serif" font-size="29.5" fill="#000">x</text>
<text transform="matrix(0.9640 0 0 1 1460.38 2011.20)" font-family="Liberation Sans, Arial, sans-serif" font-size="56.8" fill="#000">Pd</text>
<text transform="matrix(1.0332 0 0 1 1528.14 2031.60)" font-family="Liberation Sans, Arial, sans-serif" font-size="30.5" fill="#000">100-x</text>
<line x1="1371" y1="2107.5" x2="1482.8" y2="2107.5" stroke="#000" stroke-width="2.2"/>
<use href="#b0L" x="1426.7" y="2107.5"/>
<text transform="matrix(1.0266 0 0 1 1495.98 2124.30)" font-family="Liberation Sans, Arial, sans-serif" font-size="48" fill="#000">x=30</text>
<line x1="1371" y1="2168.4" x2="1482.8" y2="2168.4" stroke="#0000ff" stroke-width="3"/>
<use href="#b1L" x="1426.7" y="2168.4"/>
<text transform="matrix(1.0230 0 0 1 1495.76 2185.20)" font-family="Liberation Sans, Arial, sans-serif" font-size="48" fill="#000">35</text>
<line x1="1371" y1="2229.3" x2="1482.8" y2="2229.3" stroke="#ff0000" stroke-width="3"/>
<use href="#b2L" x="1426.7" y="2229.3"/>
<text transform="matrix(1.0060 0 0 1 1496.51 2246.10)" font-family="Liberation Sans, Arial, sans-serif" font-size="48" fill="#000">40</text>
<line x1="1371" y1="2289.9" x2="1482.8" y2="2289.9" stroke="#000080" stroke-width="3"/>
<use href="#b3L" x="1426.7" y="2289.9"/>
<text transform="matrix(1.0084 0 0 1 1496.51 2306.70)" font-family="Liberation Sans, Arial, sans-serif" font-size="48" fill="#000">45</text>
<line x1="1371" y1="2350.6" x2="1482.8" y2="2350.6" stroke="#008000" stroke-width="2.2"/>
<use href="#b4L" x="1426.7" y="2350.6"/>
<text transform="matrix(1.0230 0 0 1 1495.64 2367.40)" font-family="Liberation Sans, Arial, sans-serif" font-size="48" fill="#000">50</text>
<line x1="1371" y1="2411.3" x2="1482.8" y2="2411.3" stroke="#900000" stroke-width="2.2"/>
<use href="#b5L" x="1426.7" y="2411.3"/>
<text transform="matrix(1.0355 0 0 1 1494.99 2428.10)" font-family="Liberation Sans, Arial, sans-serif" font-size="48" fill="#000">70</text>
<line x1="1371" y1="2472" x2="1482.8" y2="2472" stroke="#ff8000" stroke-width="3.6"/>
<use href="#b6L" x="1426.7" y="2472.0"/>
<text transform="matrix(1.0255 0 0 1 1495.51 2488.80)" font-family="Liberation Sans, Arial, sans-serif" font-size="48" fill="#000">80</text>
<text transform="matrix(1.0276 0 0 1 398.08 2760.10)" font-family="Liberation Sans, Arial, sans-serif" font-size="57.9" fill="#000">(b)</text>
<text transform="matrix(0.9600 0 0 1 1013.05 3240.30)" font-family="Liberation Serif, Times New Roman, serif" font-size="85.5" font-weight="bold" fill="#000">b</text>
<text transform="matrix(0.9225 0 0 1 984.70 3240.90)" font-family="Liberation Serif, Times New Roman, serif" font-size="86.3" fill="#000">(</text>
<text transform="matrix(0.9135 0 0 1 1057.76 3240.90)" font-family="Liberation Serif, Times New Roman, serif" font-size="86.3" fill="#000">)</text>
</g>
<g id="chart-c">
<line x1="718.18" y1="4296.03" x2="1580.92" y2="3349.21" stroke="#ff0000" stroke-width="4.3"/>
<use href="#c1" x="718.2" y="4270.8"/>
<use href="#c1" x="861.7" y="4127.9"/>
<use href="#c1" x="933.5" y="4069.1"/>
<use href="#c1" x="1005.3" y="4055.5"/>
<use href="#c1" x="1077.0" y="3966.0"/>
<use href="#c1" x="1148.8" y="3703.6"/>
<use href="#c1" x="1435.9" y="3482.9"/>
<use href="#c1" x="1579.4" y="3375.4"/>
<polyline points="431.1,4043.6 574.6,3405.9 646.4,3643.2 718.2,4073.3 790,4191.9 861.7,4295.7 933.5,4311.6 1005.3,4311.6" fill="none" stroke="#000" stroke-width="4.3" stroke-linejoin="round" marker-start="url(#mc0)" marker-mid="url(#mc0)" marker-end="url(#mc0)"/>
<line x1="535.2" y1="3563.9" x2="420.1" y2="3563.9" stroke="#000" stroke-width="4.4"/>
<path d="M400.1 3563.9L427.1 3553.9L422.1 3563.9L427.1 3573.9Z" fill="#000"/>
<line x1="1402.2" y1="3566.9" x2="1516.7" y2="3566.9" stroke="#ff0000" stroke-width="3.8"/>
<path d="M1536.7 3566.9L1509.7 3556.9L1514.7 3566.9L1509.7 3576.9Z" fill="#ff0000"/>
<g shape-rendering="crispEdges">
<line x1="388" y1="3300.2" x2="388" y2="4342" stroke="#000" stroke-width="3.6"/>
<line x1="388" y1="3302" x2="1651.1" y2="3302" stroke="#000" stroke-width="3.2"/>
<line x1="388" y1="4340.3" x2="1651.1" y2="4340.3" stroke="#000" stroke-width="3.2"/>
<line x1="1651.1" y1="3300.2" x2="1651.1" y2="4342" stroke="#ff0000" stroke-width="3.6"/>
<line x1="431.1" y1="4338.4" x2="431.1" y2="4328.4" stroke="#000" stroke-width="3"/>
<line x1="431.1" y1="3303.8" x2="431.1" y2="3313.8" stroke="#000" stroke-width="3"/>
<line x1="502.87" y1="4338.4" x2="502.87" y2="4334.4" stroke="#000" stroke-width="3"/>
<line x1="502.87" y1="3303.8" x2="502.87" y2="3307.8" stroke="#000" stroke-width="3"/>
<line x1="574.64" y1="4338.4" x2="574.64" y2="4328.4" stroke="#000" stroke-width="3"/>
<line x1="574.64" y1="3303.8" x2="574.64" y2="3313.8" stroke="#000" stroke-width="3"/>
<line x1="646.41" y1="4338.4" x2="646.41" y2="4334.4" stroke="#000" stroke-width="3"/>
<line x1="646.41" y1="3303.8" x2="646.41" y2="3307.8" stroke="#000" stroke-width="3"/>
<line x1="718.18" y1="4338.4" x2="718.18" y2="4328.4" stroke="#000" stroke-width="3"/>
<line x1="718.18" y1="3303.8" x2="718.18" y2="3313.8" stroke="#000" stroke-width="3"/>
<line x1="789.95" y1="4338.4" x2="789.95" y2="4334.4" stroke="#000" stroke-width="3"/>
<line x1="789.95" y1="3303.8" x2="789.95" y2="3307.8" stroke="#000" stroke-width="3"/>
<line x1="861.72" y1="4338.4" x2="861.72" y2="4328.4" stroke="#000" stroke-width="3"/>
<line x1="861.72" y1="3303.8" x2="861.72" y2="3313.8" stroke="#000" stroke-width="3"/>
<line x1="933.49" y1="4338.4" x2="933.49" y2="4334.4" stroke="#000" stroke-width="3"/>
<line x1="933.49" y1="3303.8" x2="933.49" y2="3307.8" stroke="#000" stroke-width="3"/>
<line x1="1005.26" y1="4338.4" x2="1005.26" y2="4328.4" stroke="#000" stroke-width="3"/>
<line x1="1005.26" y1="3303.8" x2="1005.26" y2="3313.8" stroke="#000" stroke-width="3"/>
<line x1="1077.03" y1="4338.4" x2="1077.03" y2="4334.4" stroke="#000" stroke-width="3"/>
<line x1="1077.03" y1="3303.8" x2="1077.03" y2="3307.8" stroke="#000" stroke-width="3"/>
<line x1="1148.8" y1="4338.4" x2="1148.8" y2="4328.4" stroke="#000" stroke-width="3"/>
<line x1="1148.8" y1="3303.8" x2="1148.8" y2="3313.8" stroke="#000" stroke-width="3"/>
<line x1="1220.57" y1="4338.4" x2="1220.57" y2="4334.4" stroke="#000" stroke-width="3"/>
<line x1="1220.57" y1="3303.8" x2="1220.57" y2="3307.8" stroke="#000" stroke-width="3"/>
<line x1="1292.34" y1="4338.4" x2="1292.34" y2="4328.4" stroke="#000" stroke-width="3"/>
<line x1="1292.34" y1="3303.8" x2="1292.34" y2="3313.8" stroke="#000" stroke-width="3"/>
<line x1="1364.11" y1="4338.4" x2="1364.11" y2="4334.4" stroke="#000" stroke-width="3"/>
<line x1="1364.11" y1="3303.8" x2="1364.11" y2="3307.8" stroke="#000" stroke-width="3"/>
<line x1="1435.88" y1="4338.4" x2="1435.88" y2="4328.4" stroke="#000" stroke-width="3"/>
<line x1="1435.88" y1="3303.8" x2="1435.88" y2="3313.8" stroke="#000" stroke-width="3"/>
<line x1="1507.65" y1="4338.4" x2="1507.65" y2="4334.4" stroke="#000" stroke-width="3"/>
<line x1="1507.65" y1="3303.8" x2="1507.65" y2="3307.8" stroke="#000" stroke-width="3"/>
<line x1="1579.42" y1="4338.4" x2="1579.42" y2="4328.4" stroke="#000" stroke-width="3"/>
<line x1="1579.42" y1="3303.8" x2="1579.42" y2="3313.8" stroke="#000" stroke-width="3"/>
<line x1="389.8" y1="4340.2" x2="399.8" y2="4340.2" stroke="#000" stroke-width="3"/>
<line x1="389.8" y1="4266.05" x2="393.8" y2="4266.05" stroke="#000" stroke-width="3"/>
<line x1="389.8" y1="4191.9" x2="399.8" y2="4191.9" stroke="#000" stroke-width="3"/>
<line x1="389.8" y1="4117.75" x2="393.8" y2="4117.75" stroke="#000" stroke-width="3"/>
<line x1="389.8" y1="4043.6" x2="399.8" y2="4043.6" stroke="#000" stroke-width="3"/>
<line x1="389.8" y1="3969.45" x2="393.8" y2="3969.45" stroke="#000" stroke-width="3"/>
<line x1="389.8" y1="3895.3" x2="399.8" y2="3895.3" stroke="#000" stroke-width="3"/>
<line x1="389.8" y1="3821.15" x2="393.8" y2="3821.15" stroke="#000" stroke-width="3"/>
<line x1="389.8" y1="3747" x2="399.8" y2="3747" stroke="#000" stroke-width="3"/>
<line x1="389.8" y1="3672.85" x2="393.8" y2="3672.85" stroke="#000" stroke-width="3"/>
<line x1="389.8" y1="3598.7" x2="399.8" y2="3598.7" stroke="#000" stroke-width="3"/>
<line x1="389.8" y1="3524.55" x2="393.8" y2="3524.55" stroke="#000" stroke-width="3"/>
<line x1="389.8" y1="3450.4" x2="399.8" y2="3450.4" stroke="#000" stroke-width="3"/>
<line x1="389.8" y1="3376.25" x2="393.8" y2="3376.25" stroke="#000" stroke-width="3"/>
<line x1="1649.3" y1="4325.18" x2="1644.8" y2="4325.18" stroke="#ff0000" stroke-width="3"/>
<line x1="1649.3" y1="4311.86" x2="1644.8" y2="4311.86" stroke="#ff0000" stroke-width="3"/>
<line x1="1649.3" y1="4300.11" x2="1644.8" y2="4300.11" stroke="#ff0000" stroke-width="3"/>
<line x1="1649.3" y1="4289.6" x2="1638.8" y2="4289.6" stroke="#ff0000" stroke-width="3"/>
<line x1="1649.3" y1="4220.45" x2="1644.8" y2="4220.45" stroke="#ff0000" stroke-width="3"/>
<line x1="1649.3" y1="4180.01" x2="1644.8" y2="4180.01" stroke="#ff0000" stroke-width="3"/>
<line x1="1649.3" y1="4151.31" x2="1644.8" y2="4151.31" stroke="#ff0000" stroke-width="3"/>
<line x1="1649.3" y1="4129.05" x2="1644.8" y2="4129.05" stroke="#ff0000" stroke-width="3"/>
<line x1="1649.3" y1="4110.86" x2="1644.8" y2="4110.86" stroke="#ff0000" stroke-width="3"/>
<line x1="1649.3" y1="4095.48" x2="1644.8" y2="4095.48" stroke="#ff0000" stroke-width="3"/>
<line x1="1649.3" y1="4082.16" x2="1644.8" y2="4082.16" stroke="#ff0000" stroke-width="3"/>
<line x1="1649.3" y1="4070.41" x2="1644.8" y2="4070.41" stroke="#ff0000" stroke-width="3"/>
<line x1="1649.3" y1="4059.9" x2="1638.8" y2="4059.9" stroke="#ff0000" stroke-width="3"/>
<line x1="1649.3" y1="3990.75" x2="1644.8" y2="3990.75" stroke="#ff0000" stroke-width="3"/>
<line x1="1649.3" y1="3950.31" x2="1644.8" y2="3950.31" stroke="#ff0000" stroke-width="3"/>
<line x1="1649.3" y1="3921.61" x2="1644.8" y2="3921.61" stroke="#ff0000" stroke-width="3"/>
<line x1="1649.3" y1="3899.35" x2="1644.8" y2="3899.35" stroke="#ff0000" stroke-width="3"/>
<line x1="1649.3" y1="3881.16" x2="1644.8" y2="3881.16" stroke="#ff0000" stroke-width="3"/>
<line x1="1649.3" y1="3865.78" x2="1644.8" y2="3865.78" stroke="#ff0000" stroke-width="3"/>
<line x1="1649.3" y1="3852.46" x2="1644.8" y2="3852.46" stroke="#ff0000" stroke-width="3"/>
<line x1="1649.3" y1="3840.71" x2="1644.8" y2="3840.71" stroke="#ff0000" stroke-width="3"/>
<line x1="1649.3" y1="3830.2" x2="1638.8" y2="3830.2" stroke="#ff0000" stroke-width="3"/>
<line x1="1649.3" y1="3761.05" x2="1644.8" y2="3761.05" stroke="#ff0000" stroke-width="3"/>
<line x1="1649.3" y1="3720.61" x2="1644.8" y2="3720.61" stroke="#ff0000" stroke-width="3"/>
<line x1="1649.3" y1="3691.91" x2="1644.8" y2="3691.91" stroke="#ff0000" stroke-width="3"/>
<line x1="1649.3" y1="3669.65" x2="1644.8" y2="3669.65" stroke="#ff0000" stroke-width="3"/>
<line x1="1649.3" y1="3651.46" x2="1644.8" y2="3651.46" stroke="#ff0000" stroke-width="3"/>
<line x1="1649.3" y1="3636.08" x2="1644.8" y2="3636.08" stroke="#ff0000" stroke-width="3"/>
<line x1="1649.3" y1="3622.76" x2="1644.8" y2="3622.76" stroke="#ff0000" stroke-width="3"/>
<line x1="1649.3" y1="3611.01" x2="1644.8" y2="3611.01" stroke="#ff0000" stroke-width="3"/>
<line x1="1649.3" y1="3600.5" x2="1638.8" y2="3600.5" stroke="#ff0000" stroke-width="3"/>
<line x1="1649.3" y1="3531.35" x2="1644.8" y2="3531.35" stroke="#ff0000" stroke-width="3"/>
<line x1="1649.3" y1="3490.91" x2="1644.8" y2="3490.91" stroke="#ff0000" stroke-width="3"/>
<line x1="1649.3" y1="3462.21" x2="1644.8" y2="3462.21" stroke="#ff0000" stroke-width="3"/>
<line x1="1649.3" y1="3439.95" x2="1644.8" y2="3439.95" stroke="#ff0000" stroke-width="3"/>
<line x1="1649.3" y1="3421.76" x2="1644.8" y2="3421.76" stroke="#ff0000" stroke-width="3"/>
<line x1="1649.3" y1="3406.38" x2="1644.8" y2="3406.38" stroke="#ff0000" stroke-width="3"/>
<line x1="1649.3" y1="3393.06" x2="1644.8" y2="3393.06" stroke="#ff0000" stroke-width="3"/>
<line x1="1649.3" y1="3381.31" x2="1644.8" y2="3381.31" stroke="#ff0000" stroke-width="3"/>
<line x1="1649.3" y1="3370.8" x2="1638.8" y2="3370.8" stroke="#ff0000" stroke-width="3"/>
</g>
<text transform="matrix(1.0000 0 0 1 343.81 4356.70)" font-family="Liberation Sans, Arial, sans-serif" font-size="56.8" fill="#000">0</text>
<text transform="matrix(1.0000 0 0 1 312.28 4208.40)" font-family="Liberation Sans, Arial, sans-serif" font-size="56.8" fill="#000">10</text>
<text transform="matrix(1.0000 0 0 1 312.28 4060.10)" font-family="Liberation Sans, Arial, sans-serif" font-size="56.8" fill="#000">20</text>
<text transform="matrix(1.0000 0 0 1 312.28 3911.80)" font-family="Liberation Sans, Arial, sans-serif" font-size="56.8" fill="#000">30</text>
<text transform="matrix(1.0000 0 0 1 312.28 3763.50)" font-family="Liberation Sans, Arial, sans-serif" font-size="56.8" fill="#000">40</text>
<text transform="matrix(1.0000 0 0 1 312.28 3615.20)" font-family="Liberation Sans, Arial, sans-serif" font-size="56.8" fill="#000">50</text>
<text transform="matrix(1.0000 0 0 1 312.28 3466.90)" font-family="Liberation Sans, Arial, sans-serif" font-size="56.8" fill="#000">60</text>
<text transform="matrix(1.0000 0 0 1 312.28 3318.60)" font-family="Liberation Sans, Arial, sans-serif" font-size="56.8" fill="#000">70</text>
<text transform="matrix(1.0000 0 0 1 415.00 4398.40)" font-family="Liberation Sans, Arial, sans-serif" font-size="56.8" fill="#000">0</text>
<text transform="matrix(1.0000 0 0 1 542.75 4398.40)" font-family="Liberation Sans, Arial, sans-serif" font-size="56.8" fill="#000">10</text>
<text transform="matrix(1.0000 0 0 1 686.29 4398.40)" font-family="Liberation Sans, Arial, sans-serif" font-size="56.8" fill="#000">20</text>
<text transform="matrix(1.0000 0 0 1 829.83 4398.40)" font-family="Liberation Sans, Arial, sans-serif" font-size="56.8" fill="#000">30</text>
<text transform="matrix(1.0000 0 0 1 973.37 4398.40)" font-family="Liberation Sans, Arial, sans-serif" font-size="56.8" fill="#000">40</text>
<text transform="matrix(1.0000 0 0 1 1116.91 4398.40)" font-family="Liberation Sans, Arial, sans-serif" font-size="56.8" fill="#000">50</text>
<text transform="matrix(1.0000 0 0 1 1260.45 4398.40)" font-family="Liberation Sans, Arial, sans-serif" font-size="56.8" fill="#000">60</text>
<text transform="matrix(1.0000 0 0 1 1403.99 4398.40)" font-family="Liberation Sans, Arial, sans-serif" font-size="56.8" fill="#000">70</text>
<text transform="matrix(1.0000 0 0 1 1547.53 4398.40)" font-family="Liberation Sans, Arial, sans-serif" font-size="56.8" fill="#000">80</text>
<text transform="matrix(0.9558 0 0 1 1665.64 4311.40)" font-family="Liberation Sans, Arial, sans-serif" font-size="58" fill="#ff0000">10</text>
<text transform="matrix(1.0000 0 0 1 1729.24 4286.80)" font-family="Liberation Sans, Arial, sans-serif" font-size="39" fill="#ff0000">1</text>
<text transform="matrix(0.9558 0 0 1 1665.64 4081.70)" font-family="Liberation Sans, Arial, sans-serif" font-size="58" fill="#ff0000">10</text>
<text transform="matrix(1.0000 0 0 1 1729.24 4057.10)" font-family="Liberation Sans, Arial, sans-serif" font-size="39" fill="#ff0000">2</text>
<text transform="matrix(0.9558 0 0 1 1665.64 3852.00)" font-family="Liberation Sans, Arial, sans-serif" font-size="58" fill="#ff0000">10</text>
<text transform="matrix(1.0000 0 0 1 1729.24 3827.40)" font-family="Liberation Sans, Arial, sans-serif" font-size="39" fill="#ff0000">3</text>
<text transform="matrix(0.9558 0 0 1 1665.64 3622.30)" font-family="Liberation Sans, Arial, sans-serif" font-size="58" fill="#ff0000">10</text>
<text transform="matrix(1.0000 0 0 1 1729.24 3597.70)" font-family="Liberation Sans, Arial, sans-serif" font-size="39" fill="#ff0000">4</text>
<text transform="matrix(0.9558 0 0 1 1665.64 3392.60)" font-family="Liberation Sans, Arial, sans-serif" font-size="58" fill="#ff0000">10</text>
<text transform="matrix(1.0000 0 0 1 1729.24 3368.00)" font-family="Liberation Sans, Arial, sans-serif" font-size="39" fill="#ff0000">5</text>
<text transform="matrix(0.9813 0 0 1 947.12 4478.30)" font-family="Liberation Sans, Arial, sans-serif" font-size="63.2" fill="#000">x (%)</text>
<text transform="matrix(0 -1.0247 1 0 266.80 3952.25)" font-family="Liberation Sans, Arial, sans-serif" font-size="62" fill="#000">t</text>
<text transform="matrix(0 -0.9719 1 0 282.90 3934.81)" font-family="Liberation Sans, Arial, sans-serif" font-size="42.5" fill="#000">H,50</text>
<text transform="matrix(0 -1.0012 1 0 266.80 3829.38)" font-family="Liberation Sans, Arial, sans-serif" font-size="62" fill="#000">(sec)</text>
<text transform="matrix(0 -0.9501 1 0 1812.00 3949.68)" font-family="Liberation Sans, Arial, sans-serif" font-size="61.5" fill="#ff0000">t</text>
<text transform="matrix(0 -0.9283 1 0 1828.00 3924.79)" font-family="Liberation Sans, Arial, sans-serif" font-size="42.5" fill="#ff0000">T,50</text>
<text transform="matrix(0 -0.9946 1 0 1812.00 3830.62)" font-family="Liberation Sans, Arial, sans-serif" font-size="61.5" fill="#ff0000">(sec)</text>
<text transform="matrix(0.8851 0 0 1 933.43 3455.40)" font-family="Liberation Sans, Arial, sans-serif" font-size="62.7" fill="#000">Co</text>
<text transform="matrix(0.9832 0 0 1 1005.22 3469.80)" font-family="Liberation Sans, Arial, sans-serif" font-size="39.4" fill="#000">x</text>
<text transform="matrix(0.9074 0 0 1 1025.61 3455.40)" font-family="Liberation Sans, Arial, sans-serif" font-size="62.7" fill="#000">Pd</text>
<text transform="matrix(0.9611 0 0 1 1098.04 3469.50)" font-family="Liberation Sans, Arial, sans-serif" font-size="38.3" fill="#000">100-x</text>
<text transform="matrix(0.9682 0 0 1 1463.50 4219.30)" font-family="Liberation Sans, Arial, sans-serif" font-size="57.9" fill="#000">(c)</text>
<text transform="matrix(0.9600 0 0 1 1016.43 4596.40)" font-family="Liberation Serif, Times New Roman, serif" font-size="85.5" font-weight="bold" fill="#000">c</text>
<text transform="matrix(0.9225 0 0 1 989.92 4597.00)" font-family="Liberation Serif, Times New Roman, serif" font-size="86.3" fill="#000">(</text>
<text transform="matrix(0.9135 0 0 1 1053.34 4597.00)" font-family="Liberation Serif, Times New Roman, serif" font-size="86.3" fill="#000">)</text>
</g>
</svg>
</body></html>
